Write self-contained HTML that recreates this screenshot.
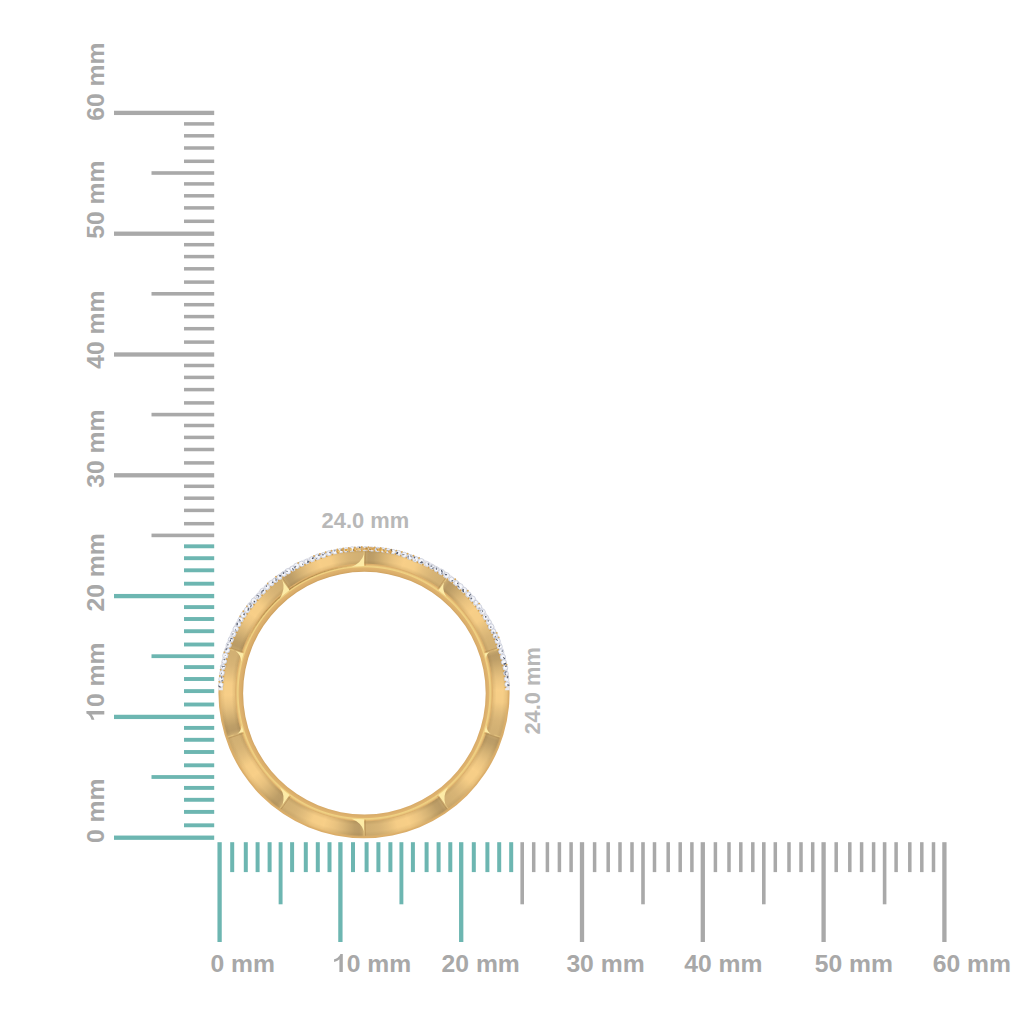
<!DOCTYPE html>
<html><head><meta charset="utf-8"><style>
html,body{margin:0;padding:0;background:#fff;}
body{width:1024px;height:1024px;overflow:hidden;position:relative;}
svg{display:block;position:absolute;left:0;top:0;}
.lb{font-family:"Liberation Sans",sans-serif;font-weight:bold;font-size:24.7px;fill:#a8a8a8;}
.lb2{font-family:"Liberation Sans",sans-serif;font-weight:bold;font-size:21.9px;fill:#b8b8b8;}
.rg{position:absolute;left:215.40px;top:544.10px;width:297.20px;height:297.20px;}
#face{background:radial-gradient(circle at 50% 50%, rgba(90,55,10,0.10) 129.3px, rgba(90,55,10,0.0) 132.5px, rgba(90,55,10,0.0) 139px, rgba(90,55,10,0.08) 142.6px), conic-gradient(from 0deg at 50% 50%, rgb(210,176,115) 0deg, rgb(193,162,106) 1deg, rgb(186,155,102) 2deg, rgb(188,157,103) 3deg, rgb(190,159,104) 4deg, rgb(196,164,107) 5deg, rgb(201,168,110) 6deg, rgb(207,173,113) 7deg, rgb(212,178,116) 8deg, rgb(218,182,119) 9deg, rgb(222,186,122) 10deg, rgb(228,190,125) 11deg, rgb(232,194,127) 12deg, rgb(236,197,129) 13deg, rgb(239,199,131) 14deg, rgb(242,202,132) 15deg, rgb(244,204,134) 16deg, rgb(248,207,136) 17deg, rgb(247,206,135) 18deg, rgb(246,206,135) 19deg, rgb(246,206,135) 20deg, rgb(246,205,135) 21deg, rgb(245,205,134) 22deg, rgb(241,201,132) 23deg, rgb(236,198,129) 24deg, rgb(232,194,127) 25deg, rgb(228,190,125) 26deg, rgb(224,188,123) 27deg, rgb(221,185,121) 28deg, rgb(218,182,120) 29deg, rgb(215,180,118) 30deg, rgb(214,179,117) 31deg, rgb(212,178,116) 32deg, rgb(211,177,116) 33deg, rgb(210,176,115) 34deg, rgb(210,176,115) 35deg, rgb(210,176,115) 36deg, rgb(193,162,106) 37deg, rgb(186,155,102) 38deg, rgb(188,157,103) 39deg, rgb(190,159,104) 40deg, rgb(196,164,107) 41deg, rgb(201,168,110) 42deg, rgb(207,173,113) 43deg, rgb(212,178,116) 44deg, rgb(218,182,119) 45deg, rgb(222,186,122) 46deg, rgb(228,190,125) 47deg, rgb(232,194,127) 48deg, rgb(236,197,129) 49deg, rgb(239,199,131) 50deg, rgb(242,202,132) 51deg, rgb(244,204,134) 52deg, rgb(248,207,136) 53deg, rgb(247,206,135) 54deg, rgb(246,206,135) 55deg, rgb(246,206,135) 56deg, rgb(246,205,135) 57deg, rgb(245,205,134) 58deg, rgb(241,201,132) 59deg, rgb(236,198,129) 60deg, rgb(232,194,127) 61deg, rgb(228,190,125) 62deg, rgb(224,188,123) 63deg, rgb(221,185,121) 64deg, rgb(218,182,120) 65deg, rgb(215,180,118) 66deg, rgb(214,179,117) 67deg, rgb(212,178,116) 68deg, rgb(211,177,116) 69deg, rgb(210,176,115) 70deg, rgb(210,176,115) 71deg, rgb(210,176,115) 72deg, rgb(193,162,106) 73deg, rgb(186,155,102) 74deg, rgb(188,157,103) 75deg, rgb(190,159,104) 76deg, rgb(196,164,107) 77deg, rgb(201,168,110) 78deg, rgb(207,173,113) 79deg, rgb(212,178,116) 80deg, rgb(218,182,119) 81deg, rgb(222,186,122) 82deg, rgb(228,190,125) 83deg, rgb(232,194,127) 84deg, rgb(236,197,129) 85deg, rgb(239,199,131) 86deg, rgb(242,202,132) 87deg, rgb(244,204,134) 88deg, rgb(248,207,136) 89deg, rgb(247,206,135) 90deg, rgb(246,206,135) 91deg, rgb(246,206,135) 92deg, rgb(246,205,135) 93deg, rgb(245,205,134) 94deg, rgb(241,201,132) 95deg, rgb(236,198,129) 96deg, rgb(232,194,127) 97deg, rgb(228,190,125) 98deg, rgb(224,188,123) 99deg, rgb(221,185,121) 100deg, rgb(218,182,120) 101deg, rgb(215,180,118) 102deg, rgb(214,179,117) 103deg, rgb(212,178,116) 104deg, rgb(211,177,116) 105deg, rgb(210,176,115) 106deg, rgb(210,176,115) 107deg, rgb(210,176,115) 108deg, rgb(193,162,106) 109deg, rgb(186,155,102) 110deg, rgb(188,157,103) 111deg, rgb(190,159,104) 112deg, rgb(196,164,107) 113deg, rgb(201,168,110) 114deg, rgb(207,173,113) 115deg, rgb(212,178,116) 116deg, rgb(218,182,119) 117deg, rgb(222,186,122) 118deg, rgb(228,190,125) 119deg, rgb(232,194,127) 120deg, rgb(236,197,129) 121deg, rgb(239,199,131) 122deg, rgb(242,202,132) 123deg, rgb(244,204,134) 124deg, rgb(248,207,136) 125deg, rgb(247,206,135) 126deg, rgb(246,206,135) 127deg, rgb(246,206,135) 128deg, rgb(246,205,135) 129deg, rgb(245,205,134) 130deg, rgb(241,201,132) 131deg, rgb(236,198,129) 132deg, rgb(232,194,127) 133deg, rgb(228,190,125) 134deg, rgb(224,188,123) 135deg, rgb(221,185,121) 136deg, rgb(218,182,120) 137deg, rgb(215,180,118) 138deg, rgb(214,179,117) 139deg, rgb(212,178,116) 140deg, rgb(211,177,116) 141deg, rgb(210,176,115) 142deg, rgb(210,176,115) 143deg, rgb(210,176,115) 144deg, rgb(193,162,106) 145deg, rgb(186,155,102) 146deg, rgb(188,157,103) 147deg, rgb(190,159,104) 148deg, rgb(196,164,107) 149deg, rgb(201,168,110) 150deg, rgb(207,173,113) 151deg, rgb(212,178,116) 152deg, rgb(218,182,119) 153deg, rgb(222,186,122) 154deg, rgb(228,190,125) 155deg, rgb(232,194,127) 156deg, rgb(236,197,129) 157deg, rgb(239,199,131) 158deg, rgb(242,202,132) 159deg, rgb(244,204,134) 160deg, rgb(248,207,136) 161deg, rgb(247,206,135) 162deg, rgb(246,206,135) 163deg, rgb(246,206,135) 164deg, rgb(246,205,135) 165deg, rgb(245,205,134) 166deg, rgb(241,201,132) 167deg, rgb(236,198,129) 168deg, rgb(232,194,127) 169deg, rgb(228,190,125) 170deg, rgb(224,188,123) 171deg, rgb(221,185,121) 172deg, rgb(218,182,120) 173deg, rgb(215,180,118) 174deg, rgb(214,179,117) 175deg, rgb(212,178,116) 176deg, rgb(211,177,116) 177deg, rgb(210,176,115) 178deg, rgb(210,176,115) 179deg, rgb(210,176,115) 180deg, rgb(193,162,106) 181deg, rgb(186,155,102) 182deg, rgb(188,157,103) 183deg, rgb(190,159,104) 184deg, rgb(196,164,107) 185deg, rgb(201,168,110) 186deg, rgb(207,173,113) 187deg, rgb(212,178,116) 188deg, rgb(218,182,119) 189deg, rgb(222,186,122) 190deg, rgb(228,190,125) 191deg, rgb(232,194,127) 192deg, rgb(236,197,129) 193deg, rgb(239,199,131) 194deg, rgb(242,202,132) 195deg, rgb(244,204,134) 196deg, rgb(248,207,136) 197deg, rgb(247,206,135) 198deg, rgb(246,206,135) 199deg, rgb(246,206,135) 200deg, rgb(246,205,135) 201deg, rgb(245,205,134) 202deg, rgb(241,201,132) 203deg, rgb(236,198,129) 204deg, rgb(232,194,127) 205deg, rgb(228,190,125) 206deg, rgb(224,188,123) 207deg, rgb(221,185,121) 208deg, rgb(218,182,120) 209deg, rgb(215,180,118) 210deg, rgb(214,179,117) 211deg, rgb(212,178,116) 212deg, rgb(211,177,116) 213deg, rgb(210,176,115) 214deg, rgb(210,176,115) 215deg, rgb(210,176,115) 216deg, rgb(193,162,106) 217deg, rgb(186,155,102) 218deg, rgb(188,157,103) 219deg, rgb(190,159,104) 220deg, rgb(196,164,107) 221deg, rgb(201,168,110) 222deg, rgb(207,173,113) 223deg, rgb(212,178,116) 224deg, rgb(218,182,119) 225deg, rgb(222,186,122) 226deg, rgb(228,190,125) 227deg, rgb(232,194,127) 228deg, rgb(236,197,129) 229deg, rgb(239,199,131) 230deg, rgb(242,202,132) 231deg, rgb(244,204,134) 232deg, rgb(248,207,136) 233deg, rgb(247,206,135) 234deg, rgb(246,206,135) 235deg, rgb(246,206,135) 236deg, rgb(246,205,135) 237deg, rgb(245,205,134) 238deg, rgb(241,201,132) 239deg, rgb(236,198,129) 240deg, rgb(232,194,127) 241deg, rgb(228,190,125) 242deg, rgb(224,188,123) 243deg, rgb(221,185,121) 244deg, rgb(218,182,120) 245deg, rgb(215,180,118) 246deg, rgb(214,179,117) 247deg, rgb(212,178,116) 248deg, rgb(211,177,116) 249deg, rgb(210,176,115) 250deg, rgb(210,176,115) 251deg, rgb(210,176,115) 252deg, rgb(193,162,106) 253deg, rgb(186,155,102) 254deg, rgb(188,157,103) 255deg, rgb(190,159,104) 256deg, rgb(196,164,107) 257deg, rgb(201,168,110) 258deg, rgb(207,173,113) 259deg, rgb(212,178,116) 260deg, rgb(218,182,119) 261deg, rgb(222,186,122) 262deg, rgb(228,190,125) 263deg, rgb(232,194,127) 264deg, rgb(236,197,129) 265deg, rgb(239,199,131) 266deg, rgb(242,202,132) 267deg, rgb(244,204,134) 268deg, rgb(248,207,136) 269deg, rgb(247,206,135) 270deg, rgb(246,206,135) 271deg, rgb(246,206,135) 272deg, rgb(246,205,135) 273deg, rgb(245,205,134) 274deg, rgb(241,201,132) 275deg, rgb(236,198,129) 276deg, rgb(232,194,127) 277deg, rgb(228,190,125) 278deg, rgb(224,188,123) 279deg, rgb(221,185,121) 280deg, rgb(218,182,120) 281deg, rgb(215,180,118) 282deg, rgb(214,179,117) 283deg, rgb(212,178,116) 284deg, rgb(211,177,116) 285deg, rgb(210,176,115) 286deg, rgb(210,176,115) 287deg, rgb(210,176,115) 288deg, rgb(193,162,106) 289deg, rgb(186,155,102) 290deg, rgb(188,157,103) 291deg, rgb(190,159,104) 292deg, rgb(196,164,107) 293deg, rgb(201,168,110) 294deg, rgb(207,173,113) 295deg, rgb(212,178,116) 296deg, rgb(218,182,119) 297deg, rgb(222,186,122) 298deg, rgb(228,190,125) 299deg, rgb(232,194,127) 300deg, rgb(236,197,129) 301deg, rgb(239,199,131) 302deg, rgb(242,202,132) 303deg, rgb(244,204,134) 304deg, rgb(248,207,136) 305deg, rgb(247,206,135) 306deg, rgb(246,206,135) 307deg, rgb(246,206,135) 308deg, rgb(246,205,135) 309deg, rgb(245,205,134) 310deg, rgb(241,201,132) 311deg, rgb(236,198,129) 312deg, rgb(232,194,127) 313deg, rgb(228,190,125) 314deg, rgb(224,188,123) 315deg, rgb(221,185,121) 316deg, rgb(218,182,120) 317deg, rgb(215,180,118) 318deg, rgb(214,179,117) 319deg, rgb(212,178,116) 320deg, rgb(211,177,116) 321deg, rgb(210,176,115) 322deg, rgb(210,176,115) 323deg, rgb(210,176,115) 324deg, rgb(193,162,106) 325deg, rgb(186,155,102) 326deg, rgb(188,157,103) 327deg, rgb(190,159,104) 328deg, rgb(196,164,107) 329deg, rgb(201,168,110) 330deg, rgb(207,173,113) 331deg, rgb(212,178,116) 332deg, rgb(218,182,119) 333deg, rgb(222,186,122) 334deg, rgb(228,190,125) 335deg, rgb(232,194,127) 336deg, rgb(236,197,129) 337deg, rgb(239,199,131) 338deg, rgb(242,202,132) 339deg, rgb(244,204,134) 340deg, rgb(248,207,136) 341deg, rgb(247,206,135) 342deg, rgb(246,206,135) 343deg, rgb(246,206,135) 344deg, rgb(246,205,135) 345deg, rgb(245,205,134) 346deg, rgb(241,201,132) 347deg, rgb(236,198,129) 348deg, rgb(232,194,127) 349deg, rgb(228,190,125) 350deg, rgb(224,188,123) 351deg, rgb(221,185,121) 352deg, rgb(218,182,120) 353deg, rgb(215,180,118) 354deg, rgb(214,179,117) 355deg, rgb(212,178,116) 356deg, rgb(211,177,116) 357deg, rgb(210,176,115) 358deg, rgb(210,176,115) 359deg, rgb(210,176,115) 360deg);
-webkit-mask-image:radial-gradient(circle at 50% 50%, transparent 128.3px, #000 129.3px, #000 142.6px, transparent 144.6px);mask-image:radial-gradient(circle at 50% 50%, transparent 128.3px, #000 129.3px, #000 142.6px, transparent 144.6px);}
</style></head><body>
<svg width="1024" height="1024" viewBox="0 0 1024 1024">
<defs>
<radialGradient id="gold" gradientUnits="userSpaceOnUse" cx="364.0" cy="692.7" r="145.6">
<stop offset="0.8310" stop-color="#d0a361"/>
<stop offset="0.8400" stop-color="#d9ac69"/>
<stop offset="0.8578" stop-color="#e0b46f"/>
<stop offset="0.8647" stop-color="#f0d283"/>
<stop offset="0.8716" stop-color="#ecca7e"/>
<stop offset="0.8812" stop-color="#dcae6a"/>
<stop offset="0.8963" stop-color="#e6bb76"/>
<stop offset="0.9203" stop-color="#ecc27c"/>
<stop offset="0.9547" stop-color="#eac07a"/>
<stop offset="0.9794" stop-color="#e2b46e"/>
<stop offset="1.0000" stop-color="#d8ab67"/>
</radialGradient>
</defs>
<rect x="114.00" y="835.55" width="100.20" height="4.30" fill="#6db6b1"/>
<rect x="217.45" y="842.20" width="4.30" height="99.80" fill="#6db6b1"/>
<rect x="184.00" y="823.35" width="30.20" height="3.90" fill="#6db6b1"/>
<rect x="230.20" y="842.20" width="4.00" height="29.90" fill="#6db6b1"/>
<rect x="184.00" y="809.95" width="30.20" height="3.90" fill="#6db6b1"/>
<rect x="243.80" y="842.20" width="4.00" height="29.90" fill="#6db6b1"/>
<rect x="184.00" y="797.85" width="30.20" height="3.90" fill="#6db6b1"/>
<rect x="255.60" y="842.20" width="4.00" height="29.90" fill="#6db6b1"/>
<rect x="184.00" y="785.95" width="30.20" height="3.90" fill="#6db6b1"/>
<rect x="267.60" y="842.20" width="4.00" height="29.90" fill="#6db6b1"/>
<rect x="151.50" y="775.10" width="62.70" height="3.80" fill="#6db6b1"/>
<rect x="278.65" y="842.20" width="3.90" height="62.10" fill="#6db6b1"/>
<rect x="184.00" y="763.35" width="30.20" height="3.90" fill="#6db6b1"/>
<rect x="290.10" y="842.20" width="4.00" height="29.90" fill="#6db6b1"/>
<rect x="184.00" y="750.05" width="30.20" height="3.90" fill="#6db6b1"/>
<rect x="303.80" y="842.20" width="4.00" height="29.90" fill="#6db6b1"/>
<rect x="184.00" y="737.85" width="30.20" height="3.90" fill="#6db6b1"/>
<rect x="315.80" y="842.20" width="4.00" height="29.90" fill="#6db6b1"/>
<rect x="184.00" y="725.95" width="30.20" height="3.90" fill="#6db6b1"/>
<rect x="327.50" y="842.20" width="4.00" height="29.90" fill="#6db6b1"/>
<rect x="114.00" y="714.75" width="100.20" height="4.30" fill="#6db6b1"/>
<rect x="338.25" y="842.20" width="4.30" height="99.80" fill="#6db6b1"/>
<rect x="184.00" y="702.55" width="30.20" height="3.90" fill="#6db6b1"/>
<rect x="351.00" y="842.20" width="4.00" height="29.90" fill="#6db6b1"/>
<rect x="184.00" y="689.15" width="30.20" height="3.90" fill="#6db6b1"/>
<rect x="364.60" y="842.20" width="4.00" height="29.90" fill="#6db6b1"/>
<rect x="184.00" y="677.05" width="30.20" height="3.90" fill="#6db6b1"/>
<rect x="376.40" y="842.20" width="4.00" height="29.90" fill="#6db6b1"/>
<rect x="184.00" y="665.15" width="30.20" height="3.90" fill="#6db6b1"/>
<rect x="388.40" y="842.20" width="4.00" height="29.90" fill="#6db6b1"/>
<rect x="151.50" y="654.30" width="62.70" height="3.80" fill="#6db6b1"/>
<rect x="399.45" y="842.20" width="3.90" height="62.10" fill="#6db6b1"/>
<rect x="184.00" y="642.55" width="30.20" height="3.90" fill="#6db6b1"/>
<rect x="410.90" y="842.20" width="4.00" height="29.90" fill="#6db6b1"/>
<rect x="184.00" y="629.25" width="30.20" height="3.90" fill="#6db6b1"/>
<rect x="424.60" y="842.20" width="4.00" height="29.90" fill="#6db6b1"/>
<rect x="184.00" y="617.05" width="30.20" height="3.90" fill="#6db6b1"/>
<rect x="436.60" y="842.20" width="4.00" height="29.90" fill="#6db6b1"/>
<rect x="184.00" y="605.15" width="30.20" height="3.90" fill="#6db6b1"/>
<rect x="448.30" y="842.20" width="4.00" height="29.90" fill="#6db6b1"/>
<rect x="114.00" y="593.95" width="100.20" height="4.30" fill="#6db6b1"/>
<rect x="459.05" y="842.20" width="4.30" height="99.80" fill="#6db6b1"/>
<rect x="184.00" y="581.75" width="30.20" height="3.90" fill="#6db6b1"/>
<rect x="471.80" y="842.20" width="4.00" height="29.90" fill="#6db6b1"/>
<rect x="184.00" y="568.35" width="30.20" height="3.90" fill="#6db6b1"/>
<rect x="485.40" y="842.20" width="4.00" height="29.90" fill="#6db6b1"/>
<rect x="184.00" y="556.25" width="30.20" height="3.90" fill="#6db6b1"/>
<rect x="497.20" y="842.20" width="4.00" height="29.90" fill="#6db6b1"/>
<rect x="184.00" y="544.35" width="30.20" height="3.90" fill="#6db6b1"/>
<rect x="509.20" y="842.20" width="4.00" height="29.90" fill="#6db6b1"/>
<rect x="151.50" y="533.60" width="62.70" height="3.60" fill="#a9a9a9"/>
<rect x="520.40" y="842.20" width="3.60" height="62.10" fill="#a9a9a9"/>
<rect x="184.00" y="521.95" width="30.20" height="3.50" fill="#a9a9a9"/>
<rect x="531.95" y="842.20" width="3.50" height="29.90" fill="#a9a9a9"/>
<rect x="184.00" y="508.65" width="30.20" height="3.50" fill="#a9a9a9"/>
<rect x="545.65" y="842.20" width="3.50" height="29.90" fill="#a9a9a9"/>
<rect x="184.00" y="496.45" width="30.20" height="3.50" fill="#a9a9a9"/>
<rect x="557.65" y="842.20" width="3.50" height="29.90" fill="#a9a9a9"/>
<rect x="184.00" y="484.55" width="30.20" height="3.50" fill="#a9a9a9"/>
<rect x="569.35" y="842.20" width="3.50" height="29.90" fill="#a9a9a9"/>
<rect x="114.00" y="473.15" width="100.20" height="4.30" fill="#a9a9a9"/>
<rect x="579.85" y="842.20" width="4.30" height="99.80" fill="#a9a9a9"/>
<rect x="184.00" y="461.15" width="30.20" height="3.50" fill="#a9a9a9"/>
<rect x="592.85" y="842.20" width="3.50" height="29.90" fill="#a9a9a9"/>
<rect x="184.00" y="447.75" width="30.20" height="3.50" fill="#a9a9a9"/>
<rect x="606.45" y="842.20" width="3.50" height="29.90" fill="#a9a9a9"/>
<rect x="184.00" y="435.65" width="30.20" height="3.50" fill="#a9a9a9"/>
<rect x="618.25" y="842.20" width="3.50" height="29.90" fill="#a9a9a9"/>
<rect x="184.00" y="423.75" width="30.20" height="3.50" fill="#a9a9a9"/>
<rect x="630.25" y="842.20" width="3.50" height="29.90" fill="#a9a9a9"/>
<rect x="151.50" y="412.80" width="62.70" height="3.60" fill="#a9a9a9"/>
<rect x="641.20" y="842.20" width="3.60" height="62.10" fill="#a9a9a9"/>
<rect x="184.00" y="401.15" width="30.20" height="3.50" fill="#a9a9a9"/>
<rect x="652.75" y="842.20" width="3.50" height="29.90" fill="#a9a9a9"/>
<rect x="184.00" y="387.85" width="30.20" height="3.50" fill="#a9a9a9"/>
<rect x="666.45" y="842.20" width="3.50" height="29.90" fill="#a9a9a9"/>
<rect x="184.00" y="375.65" width="30.20" height="3.50" fill="#a9a9a9"/>
<rect x="678.45" y="842.20" width="3.50" height="29.90" fill="#a9a9a9"/>
<rect x="184.00" y="363.75" width="30.20" height="3.50" fill="#a9a9a9"/>
<rect x="690.15" y="842.20" width="3.50" height="29.90" fill="#a9a9a9"/>
<rect x="114.00" y="352.35" width="100.20" height="4.30" fill="#a9a9a9"/>
<rect x="700.65" y="842.20" width="4.30" height="99.80" fill="#a9a9a9"/>
<rect x="184.00" y="340.35" width="30.20" height="3.50" fill="#a9a9a9"/>
<rect x="713.65" y="842.20" width="3.50" height="29.90" fill="#a9a9a9"/>
<rect x="184.00" y="326.95" width="30.20" height="3.50" fill="#a9a9a9"/>
<rect x="727.25" y="842.20" width="3.50" height="29.90" fill="#a9a9a9"/>
<rect x="184.00" y="314.85" width="30.20" height="3.50" fill="#a9a9a9"/>
<rect x="739.05" y="842.20" width="3.50" height="29.90" fill="#a9a9a9"/>
<rect x="184.00" y="302.95" width="30.20" height="3.50" fill="#a9a9a9"/>
<rect x="751.05" y="842.20" width="3.50" height="29.90" fill="#a9a9a9"/>
<rect x="151.50" y="292.00" width="62.70" height="3.60" fill="#a9a9a9"/>
<rect x="762.00" y="842.20" width="3.60" height="62.10" fill="#a9a9a9"/>
<rect x="184.00" y="280.35" width="30.20" height="3.50" fill="#a9a9a9"/>
<rect x="773.55" y="842.20" width="3.50" height="29.90" fill="#a9a9a9"/>
<rect x="184.00" y="267.05" width="30.20" height="3.50" fill="#a9a9a9"/>
<rect x="787.25" y="842.20" width="3.50" height="29.90" fill="#a9a9a9"/>
<rect x="184.00" y="254.85" width="30.20" height="3.50" fill="#a9a9a9"/>
<rect x="799.25" y="842.20" width="3.50" height="29.90" fill="#a9a9a9"/>
<rect x="184.00" y="242.95" width="30.20" height="3.50" fill="#a9a9a9"/>
<rect x="810.95" y="842.20" width="3.50" height="29.90" fill="#a9a9a9"/>
<rect x="114.00" y="231.55" width="100.20" height="4.30" fill="#a9a9a9"/>
<rect x="821.45" y="842.20" width="4.30" height="99.80" fill="#a9a9a9"/>
<rect x="184.00" y="219.55" width="30.20" height="3.50" fill="#a9a9a9"/>
<rect x="834.45" y="842.20" width="3.50" height="29.90" fill="#a9a9a9"/>
<rect x="184.00" y="206.15" width="30.20" height="3.50" fill="#a9a9a9"/>
<rect x="848.05" y="842.20" width="3.50" height="29.90" fill="#a9a9a9"/>
<rect x="184.00" y="194.05" width="30.20" height="3.50" fill="#a9a9a9"/>
<rect x="859.85" y="842.20" width="3.50" height="29.90" fill="#a9a9a9"/>
<rect x="184.00" y="182.15" width="30.20" height="3.50" fill="#a9a9a9"/>
<rect x="871.85" y="842.20" width="3.50" height="29.90" fill="#a9a9a9"/>
<rect x="151.50" y="171.20" width="62.70" height="3.60" fill="#a9a9a9"/>
<rect x="882.80" y="842.20" width="3.60" height="62.10" fill="#a9a9a9"/>
<rect x="184.00" y="159.55" width="30.20" height="3.50" fill="#a9a9a9"/>
<rect x="894.35" y="842.20" width="3.50" height="29.90" fill="#a9a9a9"/>
<rect x="184.00" y="146.25" width="30.20" height="3.50" fill="#a9a9a9"/>
<rect x="908.05" y="842.20" width="3.50" height="29.90" fill="#a9a9a9"/>
<rect x="184.00" y="134.05" width="30.20" height="3.50" fill="#a9a9a9"/>
<rect x="920.05" y="842.20" width="3.50" height="29.90" fill="#a9a9a9"/>
<rect x="184.00" y="122.15" width="30.20" height="3.50" fill="#a9a9a9"/>
<rect x="931.75" y="842.20" width="3.50" height="29.90" fill="#a9a9a9"/>
<rect x="114.00" y="110.75" width="100.20" height="4.30" fill="#a9a9a9"/>
<rect x="942.25" y="842.20" width="4.30" height="99.80" fill="#a9a9a9"/>
<text x="210.4" y="972" class="lb">0 mm</text>
<path transform="translate(333.0 972)" d="M9.8,0 L9.8,-17.9 L7.4,-17.9 C6.9,-16.4 5.9,-15.2 4.6,-14.3 C3.5,-13.6 2.3,-13.1 1.1,-12.8 L1.1,-9.9 C3.0,-10.4 4.9,-11.4 6.4,-12.7 L6.4,0 Z" fill="#a8a8a8"/>
<text x="346.7" y="972" class="lb">0 mm</text>
<text x="441.6" y="972" class="lb">20 mm</text>
<text x="566.4" y="972" class="lb">30 mm</text>
<text x="684.2" y="972" class="lb">40 mm</text>
<text x="814.8" y="972" class="lb">50 mm</text>
<text x="932.8" y="972" class="lb">60 mm</text>
<text transform="translate(104.3 843.0) rotate(-90)" class="lb">0 mm</text>
<path transform="translate(104.3 720.8) rotate(-90)" d="M9.8,0 L9.8,-17.9 L7.4,-17.9 C6.9,-16.4 5.9,-15.2 4.6,-14.3 C3.5,-13.6 2.3,-13.1 1.1,-12.8 L1.1,-9.9 C3.0,-10.4 4.9,-11.4 6.4,-12.7 L6.4,0 Z" fill="#a8a8a8"/>
<text transform="translate(104.3 720.8) rotate(-90)" x="13.7" class="lb">0 mm</text>
<text transform="translate(104.3 611.6) rotate(-90)" class="lb">20 mm</text>
<text transform="translate(104.3 487.8) rotate(-90)" class="lb">30 mm</text>
<text transform="translate(104.3 368.8) rotate(-90)" class="lb">40 mm</text>
<text transform="translate(104.3 238.8) rotate(-90)" class="lb">50 mm</text>
<text transform="translate(104.3 120.8) rotate(-90)" class="lb">60 mm</text>
<text x="321.6" y="527.6" class="lb2">24.0 mm</text>
<text transform="translate(539.9 734.6) rotate(-90)" class="lb2">24.0 mm</text>
<path d="M218.4,692.7 a145.6,145.6 0 1,0 291.2,0 a145.6,145.6 0 1,0 -291.2,0 Z M243.09999999999997,693.2 a121.3,121.3 0 1,1 242.6,0 a121.3,121.3 0 1,1 -242.6,0 Z" fill="url(#gold)" fill-rule="evenodd"/>
</svg>
<div class="rg" id="face"></div>
<svg width="1024" height="1024" viewBox="0 0 1024 1024">
<path d="M244.38,649.16 A127.3,127.3 0 0 1 246.05,644.81" fill="none" stroke="#8a5f28" stroke-width="1.1" opacity="0.00"/>
<path d="M245.97,645.01 A127.3,127.3 0 0 1 247.80,640.72" fill="none" stroke="#8a5f28" stroke-width="1.1" opacity="0.05"/>
<path d="M247.71,640.92 A127.3,127.3 0 0 1 249.68,636.70" fill="none" stroke="#8a5f28" stroke-width="1.1" opacity="0.10"/>
<path d="M249.58,636.90 A127.3,127.3 0 0 1 251.71,632.74" fill="none" stroke="#8a5f28" stroke-width="1.1" opacity="0.15"/>
<path d="M251.60,632.94 A127.3,127.3 0 0 1 253.87,628.86" fill="none" stroke="#8a5f28" stroke-width="1.1" opacity="0.20"/>
<path d="M253.75,629.05 A127.3,127.3 0 0 1 256.16,625.05" fill="none" stroke="#8a5f28" stroke-width="1.1" opacity="0.25"/>
<path d="M256.04,625.24 A127.3,127.3 0 0 1 258.59,621.33" fill="none" stroke="#8a5f28" stroke-width="1.1" opacity="0.30"/>
<path d="M258.46,621.51 A127.3,127.3 0 0 1 261.14,617.70" fill="none" stroke="#8a5f28" stroke-width="1.1" opacity="0.34"/>
<path d="M261.01,617.87 A127.3,127.3 0 0 1 263.82,614.15" fill="none" stroke="#8a5f28" stroke-width="1.1" opacity="0.38"/>
<path d="M263.69,614.33 A127.3,127.3 0 0 1 266.63,610.70" fill="none" stroke="#8a5f28" stroke-width="1.1" opacity="0.42"/>
<path d="M266.48,610.87 A127.3,127.3 0 0 1 269.55,607.35" fill="none" stroke="#8a5f28" stroke-width="1.1" opacity="0.45"/>
<path d="M269.40,607.52 A127.3,127.3 0 0 1 272.58,604.11" fill="none" stroke="#8a5f28" stroke-width="1.1" opacity="0.48"/>
<path d="M272.43,604.27 A127.3,127.3 0 0 1 275.73,600.97" fill="none" stroke="#8a5f28" stroke-width="1.1" opacity="0.50"/>
<path d="M275.57,601.13 A127.3,127.3 0 0 1 278.98,597.95" fill="none" stroke="#8a5f28" stroke-width="1.1" opacity="0.52"/>
<path d="M278.82,598.10 A127.3,127.3 0 0 1 282.34,595.04" fill="none" stroke="#8a5f28" stroke-width="1.1" opacity="0.53"/>
<path d="M282.17,595.18 A127.3,127.3 0 0 1 285.80,592.25" fill="none" stroke="#8a5f28" stroke-width="1.1" opacity="0.54"/>
<path d="M285.63,592.39 A127.3,127.3 0 0 1 289.35,589.58" fill="none" stroke="#8a5f28" stroke-width="1.1" opacity="0.55"/>
<path d="M289.17,589.71 A127.3,127.3 0 0 1 293.00,587.04" fill="none" stroke="#8a5f28" stroke-width="1.1" opacity="0.55"/>
<path d="M292.81,587.16 A127.3,127.3 0 0 1 296.73,584.63" fill="none" stroke="#8a5f28" stroke-width="1.1" opacity="0.54"/>
<path d="M296.54,584.74 A127.3,127.3 0 0 1 300.54,582.34" fill="none" stroke="#8a5f28" stroke-width="1.1" opacity="0.53"/>
<path d="M300.35,582.45 A127.3,127.3 0 0 1 304.43,580.20" fill="none" stroke="#8a5f28" stroke-width="1.1" opacity="0.52"/>
<path d="M304.24,580.30 A127.3,127.3 0 0 1 308.40,578.19" fill="none" stroke="#8a5f28" stroke-width="1.1" opacity="0.50"/>
<path d="M308.20,578.28 A127.3,127.3 0 0 1 312.43,576.32" fill="none" stroke="#8a5f28" stroke-width="1.1" opacity="0.48"/>
<path d="M312.22,576.41 A127.3,127.3 0 0 1 316.52,574.59" fill="none" stroke="#8a5f28" stroke-width="1.1" opacity="0.45"/>
<path d="M316.31,574.67 A127.3,127.3 0 0 1 320.67,573.00" fill="none" stroke="#8a5f28" stroke-width="1.1" opacity="0.42"/>
<path d="M320.46,573.08 A127.3,127.3 0 0 1 324.87,571.56" fill="none" stroke="#8a5f28" stroke-width="1.1" opacity="0.38"/>
<path d="M324.66,571.63 A127.3,127.3 0 0 1 329.12,570.27" fill="none" stroke="#8a5f28" stroke-width="1.1" opacity="0.34"/>
<path d="M328.91,570.33 A127.3,127.3 0 0 1 333.42,569.13" fill="none" stroke="#8a5f28" stroke-width="1.1" opacity="0.30"/>
<path d="M333.20,569.18 A127.3,127.3 0 0 1 337.75,568.14" fill="none" stroke="#8a5f28" stroke-width="1.1" opacity="0.25"/>
<path d="M337.53,568.18 A127.3,127.3 0 0 1 342.11,567.30" fill="none" stroke="#8a5f28" stroke-width="1.1" opacity="0.20"/>
<path d="M341.89,567.33 A127.3,127.3 0 0 1 346.50,566.61" fill="none" stroke="#8a5f28" stroke-width="1.1" opacity="0.15"/>
<path d="M346.28,566.64 A127.3,127.3 0 0 1 350.91,566.07" fill="none" stroke="#8a5f28" stroke-width="1.1" opacity="0.10"/>
<path d="M350.69,566.10 A127.3,127.3 0 0 1 355.34,565.69" fill="none" stroke="#8a5f28" stroke-width="1.1" opacity="0.05"/>
<path d="M364.00,554.20 L364.00,566.10 L351.65,566.70 Q361.28,562.93 364.00,554.20 Z" fill="#fdeba6"/>
<line x1="364.00" y1="549.70" x2="364.00" y2="555.70" stroke="#f5d98a" stroke-width="0.9" opacity="0.5"/>
<line x1="365.50" y1="549.71" x2="365.33" y2="565.71" stroke="#9c7238" stroke-width="0.9" opacity="0.35"/>
<path d="M444.01,582.58 L438.41,590.28 L446.19,596.40 Q441.66,589.49 444.01,582.58 Z" fill="#fdeba6"/>
<line x1="448.05" y1="577.01" x2="444.53" y2="581.86" stroke="#f5d98a" stroke-width="0.9" opacity="0.5"/>
<line x1="446.84" y1="576.14" x2="437.57" y2="589.18" stroke="#9c7238" stroke-width="0.9" opacity="0.35"/>
<path d="M489.50,651.92 L484.40,653.58 L486.01,658.91 Q486.14,654.28 489.50,651.92 Z" fill="#fdeba6"/>
<line x1="500.00" y1="648.51" x2="494.29" y2="650.36" stroke="#f5d98a" stroke-width="0.9" opacity="0.5"/>
<line x1="499.53" y1="647.09" x2="484.37" y2="652.19" stroke="#9c7238" stroke-width="0.9" opacity="0.35"/>
<path d="M490.63,733.84 L484.40,731.82 L486.33,725.30 Q486.53,730.96 490.63,733.84 Z" fill="#fdeba6"/>
<line x1="500.00" y1="736.89" x2="494.29" y2="735.04" stroke="#f5d98a" stroke-width="0.9" opacity="0.5"/>
<line x1="499.53" y1="738.31" x2="484.37" y2="733.21" stroke="#9c7238" stroke-width="0.9" opacity="0.35"/>
<path d="M445.41,804.75 L438.41,795.12 L448.05,787.37 Q442.48,796.09 445.41,804.75 Z" fill="#fdeba6"/>
<line x1="448.05" y1="808.39" x2="444.53" y2="803.54" stroke="#f5d98a" stroke-width="0.9" opacity="0.5"/>
<line x1="446.84" y1="809.26" x2="437.57" y2="796.22" stroke="#9c7238" stroke-width="0.9" opacity="0.35"/>
<path d="M364.00,831.20 L364.00,819.30 L351.65,818.70 Q361.28,822.47 364.00,831.20 Z" fill="#fdeba6"/>
<line x1="364.00" y1="835.70" x2="364.00" y2="829.70" stroke="#f5d98a" stroke-width="0.9" opacity="0.5"/>
<line x1="365.50" y1="835.69" x2="365.33" y2="819.69" stroke="#9c7238" stroke-width="0.9" opacity="0.35"/>
<path d="M282.59,804.75 L289.59,795.12 L279.95,787.37 Q285.52,796.09 282.59,804.75 Z" fill="#fdeba6"/>
<line x1="279.95" y1="808.39" x2="283.47" y2="803.54" stroke="#f5d98a" stroke-width="0.9" opacity="0.5"/>
<line x1="281.16" y1="809.26" x2="290.43" y2="796.22" stroke="#9c7238" stroke-width="0.9" opacity="0.35"/>
<path d="M237.37,733.84 L243.60,731.82 L241.67,725.30 Q241.47,730.96 237.37,733.84 Z" fill="#fdeba6"/>
<line x1="228.00" y1="736.89" x2="233.71" y2="735.04" stroke="#f5d98a" stroke-width="0.9" opacity="0.5"/>
<line x1="228.47" y1="738.31" x2="243.63" y2="733.21" stroke="#9c7238" stroke-width="0.9" opacity="0.35"/>
<path d="M235.67,651.00 L243.60,653.58 L241.20,661.90 Q240.90,654.69 235.67,651.00 Z" fill="#fdeba6"/>
<line x1="228.00" y1="648.51" x2="233.71" y2="650.36" stroke="#f5d98a" stroke-width="0.9" opacity="0.5"/>
<line x1="228.47" y1="647.09" x2="243.63" y2="652.19" stroke="#9c7238" stroke-width="0.9" opacity="0.35"/>
<path d="M282.59,580.65 L289.59,590.28 L279.95,598.03 Q285.52,589.31 282.59,580.65 Z" fill="#fdeba6"/>
<line x1="279.95" y1="577.01" x2="283.47" y2="581.86" stroke="#f5d98a" stroke-width="0.9" opacity="0.5"/>
<line x1="281.16" y1="576.14" x2="290.43" y2="589.18" stroke="#9c7238" stroke-width="0.9" opacity="0.35"/>
<path d="M218.32,690.16 A145.7,145.7 0 0 1 218.39,687.49 L222.89,687.65 A141.2,141.2 0 0 0 222.82,690.24 Z" fill="#e8e9f1"/>
<path d="M218.39,687.62 A145.7,145.7 0 0 1 218.51,684.95 L223.00,685.19 A141.2,141.2 0 0 0 222.89,687.77 Z" fill="#e8e9f1"/>
<path d="M218.50,685.07 A145.7,145.7 0 0 1 218.66,682.41 L223.15,682.73 A141.2,141.2 0 0 0 222.99,685.31 Z" fill="#e8e9f1"/>
<path d="M218.65,682.54 A145.7,145.7 0 0 1 218.87,679.87 L223.35,680.27 A141.2,141.2 0 0 0 223.14,682.85 Z" fill="#e8e9f1"/>
<path d="M218.85,680.00 A145.7,145.7 0 0 1 219.11,677.34 L223.59,677.82 A141.2,141.2 0 0 0 223.34,680.39 Z" fill="#e8e9f1"/>
<path d="M219.10,677.47 A145.7,145.7 0 0 1 219.40,674.82 L223.87,675.37 A141.2,141.2 0 0 0 223.57,677.94 Z" fill="#e8e9f1"/>
<path d="M219.39,674.94 A145.7,145.7 0 0 1 219.74,672.30 L224.19,672.93 A141.2,141.2 0 0 0 223.85,675.49 Z" fill="#e8e9f1"/>
<path d="M219.72,672.42 A145.7,145.7 0 0 1 220.11,669.78 L224.56,670.49 A141.2,141.2 0 0 0 224.17,673.05 Z" fill="#e8e9f1"/>
<path d="M220.05,669.90 A145.73999999999998,145.73999999999998 0 0 1 220.50,667.27 L225.03,668.07 A141.14,141.14 0 0 0 224.60,670.62 Z" fill="#e8e9f1"/>
<path d="M220.43,667.39 A145.78,145.78 0 0 1 220.92,664.76 L225.54,665.66 A141.07999999999998,141.07999999999998 0 0 0 225.06,668.20 Z" fill="#e8e9f1"/>
<path d="M220.86,664.88 A145.82,145.82 0 0 1 221.39,662.26 L226.09,663.26 A141.01999999999998,141.01999999999998 0 0 0 225.57,665.79 Z" fill="#e8e9f1"/>
<path d="M221.33,662.37 A145.85999999999999,145.85999999999999 0 0 1 221.91,659.76 L226.68,660.87 A140.96,140.96 0 0 0 226.12,663.39 Z" fill="#e8e9f1"/>
<path d="M221.84,659.88 A145.9,145.9 0 0 1 222.46,657.28 L227.32,658.49 A140.9,140.9 0 0 0 226.71,661.00 Z" fill="#e8e9f1"/>
<path d="M222.40,657.39 A145.94,145.94 0 0 1 223.07,654.80 L227.99,656.13 A140.84,140.84 0 0 0 227.34,658.63 Z" fill="#e8e9f1"/>
<path d="M222.99,654.92 A145.98,145.98 0 0 1 223.71,652.34 L228.71,653.78 A140.78,140.78 0 0 0 228.02,656.26 Z" fill="#e8e9f1"/>
<path d="M223.64,652.45 A146.01999999999998,146.01999999999998 0 0 1 224.40,649.89 L229.46,651.44 A140.72,140.72 0 0 0 228.73,653.91 Z" fill="#e8e9f1"/>
<path d="M224.32,650.00 A146.06,146.06 0 0 1 225.13,647.44 L230.26,649.12 A140.66,140.66 0 0 0 229.49,651.57 Z" fill="#e8e9f1"/>
<path d="M225.05,647.55 A146.1,146.1 0 0 1 225.90,645.01 L231.10,646.81 A140.6,140.6 0 0 0 230.28,649.25 Z" fill="#e8e9f1"/>
<path d="M225.86,645.13 A146.1,146.1 0 0 1 226.75,642.61 L231.92,644.50 A140.6,140.6 0 0 0 231.06,646.93 Z" fill="#e8e9f1"/>
<path d="M226.71,642.73 A146.1,146.1 0 0 1 227.65,640.22 L232.78,642.20 A140.6,140.6 0 0 0 231.88,644.61 Z" fill="#e8e9f1"/>
<path d="M227.60,640.34 A146.1,146.1 0 0 1 228.59,637.85 L233.68,639.92 A140.6,140.6 0 0 0 232.74,642.31 Z" fill="#e8e9f1"/>
<path d="M228.54,637.97 A146.1,146.1 0 0 1 229.56,635.50 L234.63,637.65 A140.6,140.6 0 0 0 233.64,640.03 Z" fill="#e8e9f1"/>
<path d="M229.51,635.61 A146.1,146.1 0 0 1 230.58,633.16 L235.61,635.40 A140.6,140.6 0 0 0 234.58,637.76 Z" fill="#e8e9f1"/>
<path d="M230.53,633.28 A146.1,146.1 0 0 1 231.64,630.84 L236.63,633.17 A140.6,140.6 0 0 0 235.56,635.51 Z" fill="#e8e9f1"/>
<path d="M231.59,630.96 A146.1,146.1 0 0 1 232.74,628.54 L237.68,630.95 A140.6,140.6 0 0 0 236.57,633.28 Z" fill="#e8e9f1"/>
<path d="M232.69,628.65 A146.1,146.1 0 0 1 233.88,626.26 L238.78,628.76 A140.6,140.6 0 0 0 237.63,631.07 Z" fill="#e8e9f1"/>
<path d="M233.82,626.37 A146.1,146.1 0 0 1 235.06,624.00 L239.92,626.58 A140.6,140.6 0 0 0 238.72,628.87 Z" fill="#e8e9f1"/>
<path d="M235.00,624.11 A146.1,146.1 0 0 1 236.28,621.76 L241.09,624.43 A140.6,140.6 0 0 0 239.86,626.69 Z" fill="#e8e9f1"/>
<path d="M236.22,621.87 A146.1,146.1 0 0 1 237.54,619.54 L242.30,622.29 A140.6,140.6 0 0 0 241.03,624.54 Z" fill="#e8e9f1"/>
<path d="M237.47,619.65 A146.1,146.1 0 0 1 238.83,617.34 L243.55,620.18 A140.6,140.6 0 0 0 242.24,622.40 Z" fill="#e8e9f1"/>
<path d="M238.77,617.45 A146.1,146.1 0 0 1 240.17,615.17 L244.83,618.09 A140.6,140.6 0 0 0 243.48,620.29 Z" fill="#e8e9f1"/>
<path d="M240.10,615.28 A146.1,146.1 0 0 1 241.54,613.02 L246.15,616.02 A140.6,140.6 0 0 0 244.76,618.19 Z" fill="#e8e9f1"/>
<path d="M241.47,613.13 A146.1,146.1 0 0 1 242.95,610.90 L247.51,613.98 A140.6,140.6 0 0 0 246.08,616.12 Z" fill="#e8e9f1"/>
<path d="M242.88,611.00 A146.1,146.1 0 0 1 244.40,608.80 L248.90,611.95 A140.6,140.6 0 0 0 247.44,614.08 Z" fill="#e8e9f1"/>
<path d="M244.32,608.90 A146.1,146.1 0 0 1 245.88,606.72 L250.32,609.96 A140.6,140.6 0 0 0 248.83,612.06 Z" fill="#e8e9f1"/>
<path d="M245.80,606.82 A146.1,146.1 0 0 1 247.40,604.67 L251.79,607.99 A140.6,140.6 0 0 0 250.25,610.06 Z" fill="#e8e9f1"/>
<path d="M247.32,604.77 A146.1,146.1 0 0 1 248.95,602.65 L253.28,606.04 A140.6,140.6 0 0 0 251.71,608.08 Z" fill="#e8e9f1"/>
<path d="M248.87,602.75 A146.1,146.1 0 0 1 250.54,600.66 L254.81,604.12 A140.6,140.6 0 0 0 253.21,606.14 Z" fill="#e8e9f1"/>
<path d="M250.46,600.76 A146.1,146.1 0 0 1 252.16,598.69 L256.37,602.23 A140.6,140.6 0 0 0 254.73,604.22 Z" fill="#e8e9f1"/>
<path d="M252.08,598.79 A146.1,146.1 0 0 1 253.82,596.75 L257.97,600.37 A140.6,140.6 0 0 0 256.29,602.32 Z" fill="#e8e9f1"/>
<path d="M253.74,596.85 A146.1,146.1 0 0 1 255.51,594.85 L259.60,598.53 A140.6,140.6 0 0 0 257.89,600.46 Z" fill="#e8e9f1"/>
<path d="M255.43,594.94 A146.1,146.1 0 0 1 257.24,592.97 L261.26,596.72 A140.6,140.6 0 0 0 259.51,598.62 Z" fill="#e8e9f1"/>
<path d="M257.15,593.06 A146.1,146.1 0 0 1 258.99,591.12 L262.95,594.94 A140.6,140.6 0 0 0 261.17,596.81 Z" fill="#e8e9f1"/>
<path d="M258.90,591.21 A146.1,146.1 0 0 1 260.78,589.30 L264.67,593.19 A140.6,140.6 0 0 0 262.86,595.03 Z" fill="#e8e9f1"/>
<path d="M260.69,589.39 A146.1,146.1 0 0 1 262.60,587.52 L266.42,591.48 A140.6,140.6 0 0 0 264.58,593.28 Z" fill="#e8e9f1"/>
<path d="M262.51,587.60 A146.1,146.1 0 0 1 264.45,585.76 L268.20,589.79 A140.6,140.6 0 0 0 266.33,591.56 Z" fill="#e8e9f1"/>
<path d="M264.36,585.85 A146.1,146.1 0 0 1 266.33,584.04 L270.01,588.13 A140.6,140.6 0 0 0 268.11,589.87 Z" fill="#e8e9f1"/>
<path d="M266.24,584.13 A146.1,146.1 0 0 1 268.25,582.35 L271.85,586.51 A140.6,140.6 0 0 0 269.92,588.21 Z" fill="#e8e9f1"/>
<path d="M268.15,582.44 A146.1,146.1 0 0 1 270.19,580.70 L273.72,584.92 A140.6,140.6 0 0 0 271.76,586.59 Z" fill="#e8e9f1"/>
<path d="M270.09,580.78 A146.1,146.1 0 0 1 272.16,579.08 L275.61,583.36 A140.6,140.6 0 0 0 273.62,584.99 Z" fill="#e8e9f1"/>
<path d="M272.06,579.16 A146.1,146.1 0 0 1 274.15,577.49 L277.53,581.83 A140.6,140.6 0 0 0 275.52,583.43 Z" fill="#e8e9f1"/>
<path d="M274.05,577.57 A146.1,146.1 0 0 1 276.18,575.94 L279.48,580.34 A140.6,140.6 0 0 0 277.44,581.91 Z" fill="#e8e9f1"/>
<path d="M276.07,576.02 A146.1,146.1 0 0 1 278.23,574.43 L281.46,578.88 A140.6,140.6 0 0 0 279.38,580.41 Z" fill="#e8e9f1"/>
<path d="M278.12,574.50 A146.1,146.1 0 0 1 280.30,572.95 L283.46,577.46 A140.6,140.6 0 0 0 281.36,578.95 Z" fill="#e8e9f1"/>
<path d="M280.20,573.02 A146.1,146.1 0 0 1 282.41,571.51 L285.48,576.07 A140.6,140.6 0 0 0 283.36,577.53 Z" fill="#e8e9f1"/>
<path d="M282.30,571.58 A146.1,146.1 0 0 1 284.54,570.10 L287.53,574.72 A140.6,140.6 0 0 0 285.38,576.14 Z" fill="#e8e9f1"/>
<path d="M284.43,570.17 A146.1,146.1 0 0 1 286.69,568.73 L289.60,573.40 A140.6,140.6 0 0 0 287.42,574.78 Z" fill="#e8e9f1"/>
<path d="M286.58,568.80 A146.1,146.1 0 0 1 288.86,567.40 L291.69,572.12 A140.6,140.6 0 0 0 289.49,573.46 Z" fill="#e8e9f1"/>
<path d="M288.75,567.47 A146.1,146.1 0 0 1 291.06,566.11 L293.81,570.88 A140.6,140.6 0 0 0 291.59,572.18 Z" fill="#e8e9f1"/>
<path d="M290.95,566.17 A146.1,146.1 0 0 1 293.28,564.86 L295.94,569.67 A140.6,140.6 0 0 0 293.70,570.94 Z" fill="#e8e9f1"/>
<path d="M293.17,564.92 A146.1,146.1 0 0 1 295.52,563.64 L298.10,568.50 A140.6,140.6 0 0 0 295.84,569.73 Z" fill="#e8e9f1"/>
<path d="M295.41,563.70 A146.1,146.1 0 0 1 297.79,562.47 L300.28,567.37 A140.6,140.6 0 0 0 297.99,568.56 Z" fill="#e8e9f1"/>
<path d="M297.67,562.52 A146.1,146.1 0 0 1 300.07,561.33 L302.48,566.28 A140.6,140.6 0 0 0 300.17,567.42 Z" fill="#e8e9f1"/>
<path d="M299.95,561.39 A146.1,146.1 0 0 1 302.37,560.23 L304.69,565.22 A140.6,140.6 0 0 0 302.37,566.33 Z" fill="#e8e9f1"/>
<path d="M302.26,560.29 A146.1,146.1 0 0 1 304.69,559.18 L306.92,564.21 A140.6,140.6 0 0 0 304.58,565.27 Z" fill="#e8e9f1"/>
<path d="M304.58,559.23 A146.1,146.1 0 0 1 307.03,558.16 L309.18,563.23 A140.6,140.6 0 0 0 306.81,564.26 Z" fill="#e8e9f1"/>
<path d="M306.91,558.21 A146.1,146.1 0 0 1 309.39,557.19 L311.44,562.29 A140.6,140.6 0 0 0 309.06,563.28 Z" fill="#e8e9f1"/>
<path d="M309.27,557.24 A146.1,146.1 0 0 1 311.76,556.26 L313.73,561.39 A140.6,140.6 0 0 0 311.33,562.34 Z" fill="#e8e9f1"/>
<path d="M311.64,556.30 A146.1,146.1 0 0 1 314.15,555.37 L316.03,560.54 A140.6,140.6 0 0 0 313.61,561.44 Z" fill="#e8e9f1"/>
<path d="M314.03,555.41 A146.1,146.1 0 0 1 316.56,554.52 L318.34,559.72 A140.6,140.6 0 0 0 315.91,560.58 Z" fill="#e8e9f1"/>
<path d="M316.40,554.47 A146.2,146.2 0 0 1 318.94,553.62 L320.62,558.80 A140.75,140.75 0 0 0 318.18,559.62 Z" fill="#e8e9f1"/>
<path d="M318.82,553.66 A146.2,146.2 0 0 1 321.38,552.85 L322.92,557.92 A140.9,140.9 0 0 0 320.46,558.70 Z" fill="#e8e9f1"/>
<path d="M321.26,552.89 A146.2,146.2 0 0 1 323.82,552.13 L325.24,557.08 A141.05,141.05 0 0 0 322.76,557.81 Z" fill="#e8e9f1"/>
<path d="M323.70,552.16 A146.2,146.2 0 0 1 326.28,551.45 L327.57,556.28 A141.20000000000002,141.20000000000002 0 0 0 325.08,556.97 Z" fill="#e8e9f1"/>
<path d="M326.16,551.48 A146.2,146.2 0 0 1 328.75,550.81 L329.92,555.52 A141.35000000000002,141.35000000000002 0 0 0 327.42,556.17 Z" fill="#e8e9f1"/>
<path d="M328.63,550.84 A146.2,146.2 0 0 1 331.24,550.22 L332.29,554.80 A141.5,141.5 0 0 0 329.77,555.40 Z" fill="#e8e9f1"/>
<path d="M331.11,550.25 A146.2,146.2 0 0 1 333.73,549.67 L334.67,554.12 A141.65,141.65 0 0 0 332.14,554.68 Z" fill="#e8e9f1"/>
<path d="M333.60,549.69 A146.2,146.2 0 0 1 336.23,549.16 L337.06,553.48 A141.8,141.8 0 0 0 334.52,554.00 Z" fill="#e8e9f1"/>
<path d="M336.10,549.19 A146.2,146.2 0 0 1 338.74,548.70 L339.50,553.03 A141.8,141.8 0 0 0 336.94,553.51 Z" fill="#e8e9f1"/>
<path d="M338.61,548.72 A146.2,146.2 0 0 1 341.26,548.28 L341.94,552.63 A141.8,141.8 0 0 0 339.38,553.05 Z" fill="#e8e9f1"/>
<path d="M341.13,548.30 A146.2,146.2 0 0 1 343.78,547.91 L344.39,552.26 A141.8,141.8 0 0 0 341.82,552.65 Z" fill="#e8e9f1"/>
<path d="M343.65,547.92 A146.2,146.2 0 0 1 346.31,547.57 L346.84,551.94 A141.8,141.8 0 0 0 344.27,552.28 Z" fill="#e8e9f1"/>
<path d="M346.18,547.59 A146.2,146.2 0 0 1 348.84,547.29 L349.30,551.66 A141.8,141.8 0 0 0 346.72,551.96 Z" fill="#e8e9f1"/>
<path d="M348.72,547.30 A146.2,146.2 0 0 1 351.38,547.05 L351.76,551.43 A141.8,141.8 0 0 0 349.18,551.68 Z" fill="#e8e9f1"/>
<path d="M351.26,547.06 A146.2,146.2 0 0 1 353.93,546.85 L354.23,551.24 A141.8,141.8 0 0 0 351.64,551.44 Z" fill="#e8e9f1"/>
<path d="M353.80,546.86 A146.2,146.2 0 0 1 356.48,546.69 L356.70,551.09 A141.8,141.8 0 0 0 354.11,551.25 Z" fill="#e8e9f1"/>
<path d="M356.35,546.70 A146.2,146.2 0 0 1 359.03,546.58 L359.17,550.98 A141.8,141.8 0 0 0 356.58,551.09 Z" fill="#e8e9f1"/>
<path d="M358.90,546.59 A146.2,146.2 0 0 1 361.58,546.52 L361.65,550.92 A141.8,141.8 0 0 0 359.05,550.99 Z" fill="#e8e9f1"/>
<path d="M361.45,546.52 A146.2,146.2 0 0 1 364.13,546.50 L364.12,550.90 A141.8,141.8 0 0 0 361.53,550.92 Z" fill="#e8e9f1"/>
<path d="M364.00,546.50 A146.2,146.2 0 0 1 366.68,546.52 L366.60,550.92 A141.8,141.8 0 0 0 364.00,550.90 Z" fill="#e8e9f1"/>
<path d="M366.55,546.52 A146.2,146.2 0 0 1 369.23,546.59 L369.07,550.99 A141.8,141.8 0 0 0 366.47,550.92 Z" fill="#e8e9f1"/>
<path d="M369.10,546.59 A146.2,146.2 0 0 1 371.78,546.71 L371.54,551.10 A141.8,141.8 0 0 0 368.95,550.99 Z" fill="#e8e9f1"/>
<path d="M371.65,546.70 A146.2,146.2 0 0 1 374.33,546.87 L374.01,551.25 A141.8,141.8 0 0 0 371.42,551.09 Z" fill="#e8e9f1"/>
<path d="M374.20,546.86 A146.2,146.2 0 0 1 376.87,547.07 L376.48,551.45 A141.8,141.8 0 0 0 373.89,551.25 Z" fill="#e8e9f1"/>
<path d="M376.74,547.06 A146.2,146.2 0 0 1 379.41,547.31 L378.95,551.69 A141.8,141.8 0 0 0 376.36,551.44 Z" fill="#e8e9f1"/>
<path d="M379.28,547.30 A146.2,146.2 0 0 1 381.94,547.61 L381.40,551.97 A141.8,141.8 0 0 0 378.82,551.68 Z" fill="#e8e9f1"/>
<path d="M381.82,547.59 A146.2,146.2 0 0 1 384.47,547.94 L383.86,552.30 A141.8,141.8 0 0 0 381.28,551.96 Z" fill="#e8e9f1"/>
<path d="M384.35,547.92 A146.2,146.2 0 0 1 387.00,548.32 L386.30,552.67 A141.8,141.8 0 0 0 383.73,552.28 Z" fill="#e8e9f1"/>
<path d="M386.87,548.30 A146.2,146.2 0 0 1 389.51,548.74 L388.75,553.08 A141.8,141.8 0 0 0 386.18,552.65 Z" fill="#e8e9f1"/>
<path d="M389.39,548.72 A146.2,146.2 0 0 1 392.02,549.21 L391.18,553.53 A141.8,141.8 0 0 0 388.62,553.05 Z" fill="#e8e9f1"/>
<path d="M391.90,549.19 A146.2,146.2 0 0 1 394.52,549.72 L393.60,554.02 A141.8,141.8 0 0 0 391.06,553.51 Z" fill="#e8e9f1"/>
<path d="M394.40,549.69 A146.2,146.2 0 0 1 397.01,550.28 L396.02,554.56 A141.8,141.8 0 0 0 393.48,554.00 Z" fill="#e8e9f1"/>
<path d="M396.89,550.25 A146.2,146.2 0 0 1 399.49,550.87 L398.39,555.29 A141.65,141.65 0 0 0 395.86,554.68 Z" fill="#e8e9f1"/>
<path d="M399.37,550.84 A146.2,146.2 0 0 1 401.96,551.51 L400.74,556.05 A141.5,141.5 0 0 0 398.23,555.40 Z" fill="#e8e9f1"/>
<path d="M401.84,551.48 A146.2,146.2 0 0 1 404.42,552.20 L403.08,556.86 A141.35000000000002,141.35000000000002 0 0 0 400.58,556.17 Z" fill="#e8e9f1"/>
<path d="M404.30,552.16 A146.2,146.2 0 0 1 406.87,552.93 L405.40,557.71 A141.20000000000002,141.20000000000002 0 0 0 402.92,556.97 Z" fill="#e8e9f1"/>
<path d="M406.74,552.89 A146.2,146.2 0 0 1 409.30,553.70 L407.70,558.59 A141.05,141.05 0 0 0 405.24,557.81 Z" fill="#e8e9f1"/>
<path d="M409.18,553.66 A146.2,146.2 0 0 1 411.72,554.51 L409.99,559.52 A140.9,140.9 0 0 0 407.54,558.70 Z" fill="#e8e9f1"/>
<path d="M411.60,554.47 A146.2,146.2 0 0 1 414.12,555.36 L412.25,560.48 A140.75,140.75 0 0 0 409.82,559.62 Z" fill="#e8e9f1"/>
<path d="M413.97,555.41 A146.1,146.1 0 0 1 416.48,556.35 L414.50,561.48 A140.6,140.6 0 0 0 412.09,560.58 Z" fill="#e8e9f1"/>
<path d="M416.36,556.30 A146.1,146.1 0 0 1 418.85,557.29 L416.78,562.38 A140.6,140.6 0 0 0 414.39,561.44 Z" fill="#e8e9f1"/>
<path d="M418.73,557.24 A146.1,146.1 0 0 1 421.20,558.26 L419.05,563.33 A140.6,140.6 0 0 0 416.67,562.34 Z" fill="#e8e9f1"/>
<path d="M421.09,558.21 A146.1,146.1 0 0 1 423.54,559.28 L421.30,564.31 A140.6,140.6 0 0 0 418.94,563.28 Z" fill="#e8e9f1"/>
<path d="M423.42,559.23 A146.1,146.1 0 0 1 425.86,560.34 L423.53,565.33 A140.6,140.6 0 0 0 421.19,564.26 Z" fill="#e8e9f1"/>
<path d="M425.74,560.29 A146.1,146.1 0 0 1 428.16,561.44 L425.75,566.38 A140.6,140.6 0 0 0 423.42,565.27 Z" fill="#e8e9f1"/>
<path d="M428.05,561.39 A146.1,146.1 0 0 1 430.44,562.58 L427.94,567.48 A140.6,140.6 0 0 0 425.63,566.33 Z" fill="#e8e9f1"/>
<path d="M430.33,562.52 A146.1,146.1 0 0 1 432.70,563.76 L430.12,568.62 A140.6,140.6 0 0 0 427.83,567.42 Z" fill="#e8e9f1"/>
<path d="M432.59,563.70 A146.1,146.1 0 0 1 434.94,564.98 L432.27,569.79 A140.6,140.6 0 0 0 430.01,568.56 Z" fill="#e8e9f1"/>
<path d="M434.83,564.92 A146.1,146.1 0 0 1 437.16,566.24 L434.41,571.00 A140.6,140.6 0 0 0 432.16,569.73 Z" fill="#e8e9f1"/>
<path d="M437.05,566.17 A146.1,146.1 0 0 1 439.36,567.53 L436.52,572.25 A140.6,140.6 0 0 0 434.30,570.94 Z" fill="#e8e9f1"/>
<path d="M439.25,567.47 A146.1,146.1 0 0 1 441.53,568.87 L438.61,573.53 A140.6,140.6 0 0 0 436.41,572.18 Z" fill="#e8e9f1"/>
<path d="M441.42,568.80 A146.1,146.1 0 0 1 443.68,570.24 L440.68,574.85 A140.6,140.6 0 0 0 438.51,573.46 Z" fill="#e8e9f1"/>
<path d="M443.57,570.17 A146.1,146.1 0 0 1 445.80,571.65 L442.72,576.21 A140.6,140.6 0 0 0 440.58,574.78 Z" fill="#e8e9f1"/>
<path d="M445.70,571.58 A146.1,146.1 0 0 1 447.90,573.10 L444.75,577.60 A140.6,140.6 0 0 0 442.62,576.14 Z" fill="#e8e9f1"/>
<path d="M447.80,573.02 A146.1,146.1 0 0 1 449.98,574.58 L446.74,579.02 A140.6,140.6 0 0 0 444.64,577.53 Z" fill="#e8e9f1"/>
<path d="M449.88,574.50 A146.1,146.1 0 0 1 452.03,576.10 L448.71,580.49 A140.6,140.6 0 0 0 446.64,578.95 Z" fill="#e8e9f1"/>
<path d="M451.93,576.02 A146.1,146.1 0 0 1 454.05,577.65 L450.66,581.98 A140.6,140.6 0 0 0 448.62,580.41 Z" fill="#e8e9f1"/>
<path d="M453.95,577.57 A146.1,146.1 0 0 1 456.04,579.24 L452.58,583.51 A140.6,140.6 0 0 0 450.56,581.91 Z" fill="#e8e9f1"/>
<path d="M455.94,579.16 A146.1,146.1 0 0 1 458.01,580.86 L454.47,585.07 A140.6,140.6 0 0 0 452.48,583.43 Z" fill="#e8e9f1"/>
<path d="M457.91,580.78 A146.1,146.1 0 0 1 459.95,582.52 L456.33,586.67 A140.6,140.6 0 0 0 454.38,584.99 Z" fill="#e8e9f1"/>
<path d="M459.85,582.44 A146.1,146.1 0 0 1 461.85,584.21 L458.17,588.30 A140.6,140.6 0 0 0 456.24,586.59 Z" fill="#e8e9f1"/>
<path d="M461.76,584.13 A146.1,146.1 0 0 1 463.73,585.94 L459.98,589.96 A140.6,140.6 0 0 0 458.08,588.21 Z" fill="#e8e9f1"/>
<path d="M463.64,585.85 A146.1,146.1 0 0 1 465.58,587.69 L461.76,591.65 A140.6,140.6 0 0 0 459.89,589.87 Z" fill="#e8e9f1"/>
<path d="M465.49,587.60 A146.1,146.1 0 0 1 467.40,589.48 L463.51,593.37 A140.6,140.6 0 0 0 461.67,591.56 Z" fill="#e8e9f1"/>
<path d="M467.31,589.39 A146.1,146.1 0 0 1 469.18,591.30 L465.22,595.12 A140.6,140.6 0 0 0 463.42,593.28 Z" fill="#e8e9f1"/>
<path d="M469.10,591.21 A146.1,146.1 0 0 1 470.94,593.15 L466.91,596.90 A140.6,140.6 0 0 0 465.14,595.03 Z" fill="#e8e9f1"/>
<path d="M470.85,593.06 A146.1,146.1 0 0 1 472.66,595.03 L468.57,598.71 A140.6,140.6 0 0 0 466.83,596.81 Z" fill="#e8e9f1"/>
<path d="M472.57,594.94 A146.1,146.1 0 0 1 474.35,596.95 L470.19,600.55 A140.6,140.6 0 0 0 468.49,598.62 Z" fill="#e8e9f1"/>
<path d="M474.26,596.85 A146.1,146.1 0 0 1 476.00,598.89 L471.78,602.42 A140.6,140.6 0 0 0 470.11,600.46 Z" fill="#e8e9f1"/>
<path d="M475.92,598.79 A146.1,146.1 0 0 1 477.62,600.86 L473.34,604.31 A140.6,140.6 0 0 0 471.71,602.32 Z" fill="#e8e9f1"/>
<path d="M477.54,600.76 A146.1,146.1 0 0 1 479.21,602.85 L474.87,606.23 A140.6,140.6 0 0 0 473.27,604.22 Z" fill="#e8e9f1"/>
<path d="M479.13,602.75 A146.1,146.1 0 0 1 480.76,604.88 L476.36,608.18 A140.6,140.6 0 0 0 474.79,606.14 Z" fill="#e8e9f1"/>
<path d="M480.68,604.77 A146.1,146.1 0 0 1 482.27,606.93 L477.82,610.16 A140.6,140.6 0 0 0 476.29,608.08 Z" fill="#e8e9f1"/>
<path d="M482.20,606.82 A146.1,146.1 0 0 1 483.75,609.00 L479.24,612.16 A140.6,140.6 0 0 0 477.75,610.06 Z" fill="#e8e9f1"/>
<path d="M483.68,608.90 A146.1,146.1 0 0 1 485.19,611.11 L480.63,614.18 A140.6,140.6 0 0 0 479.17,612.06 Z" fill="#e8e9f1"/>
<path d="M485.12,611.00 A146.1,146.1 0 0 1 486.60,613.24 L481.98,616.23 A140.6,140.6 0 0 0 480.56,614.08 Z" fill="#e8e9f1"/>
<path d="M486.53,613.13 A146.1,146.1 0 0 1 487.97,615.39 L483.30,618.30 A140.6,140.6 0 0 0 481.92,616.12 Z" fill="#e8e9f1"/>
<path d="M487.90,615.28 A146.1,146.1 0 0 1 489.30,617.56 L484.58,620.39 A140.6,140.6 0 0 0 483.24,618.19 Z" fill="#e8e9f1"/>
<path d="M489.23,617.45 A146.1,146.1 0 0 1 490.59,619.76 L485.82,622.51 A140.6,140.6 0 0 0 484.52,620.29 Z" fill="#e8e9f1"/>
<path d="M490.53,619.65 A146.1,146.1 0 0 1 491.84,621.98 L487.03,624.64 A140.6,140.6 0 0 0 485.76,622.40 Z" fill="#e8e9f1"/>
<path d="M491.78,621.87 A146.1,146.1 0 0 1 493.06,624.22 L488.20,626.80 A140.6,140.6 0 0 0 486.97,624.54 Z" fill="#e8e9f1"/>
<path d="M493.00,624.11 A146.1,146.1 0 0 1 494.23,626.49 L489.33,628.98 A140.6,140.6 0 0 0 488.14,626.69 Z" fill="#e8e9f1"/>
<path d="M494.18,626.37 A146.1,146.1 0 0 1 495.37,628.77 L490.42,631.18 A140.6,140.6 0 0 0 489.28,628.87 Z" fill="#e8e9f1"/>
<path d="M495.31,628.65 A146.1,146.1 0 0 1 496.47,631.07 L491.48,633.39 A140.6,140.6 0 0 0 490.37,631.07 Z" fill="#e8e9f1"/>
<path d="M496.41,630.96 A146.1,146.1 0 0 1 497.52,633.39 L492.49,635.62 A140.6,140.6 0 0 0 491.43,633.28 Z" fill="#e8e9f1"/>
<path d="M497.47,633.28 A146.1,146.1 0 0 1 498.54,635.73 L493.47,637.88 A140.6,140.6 0 0 0 492.44,635.51 Z" fill="#e8e9f1"/>
<path d="M498.49,635.61 A146.1,146.1 0 0 1 499.51,638.09 L494.41,640.14 A140.6,140.6 0 0 0 493.42,637.76 Z" fill="#e8e9f1"/>
<path d="M499.46,637.97 A146.1,146.1 0 0 1 500.44,640.46 L495.31,642.43 A140.6,140.6 0 0 0 494.36,640.03 Z" fill="#e8e9f1"/>
<path d="M500.40,640.34 A146.1,146.1 0 0 1 501.33,642.85 L496.16,644.73 A140.6,140.6 0 0 0 495.26,642.31 Z" fill="#e8e9f1"/>
<path d="M501.29,642.73 A146.1,146.1 0 0 1 502.18,645.26 L496.98,647.04 A140.6,140.6 0 0 0 496.12,644.61 Z" fill="#e8e9f1"/>
<path d="M502.14,645.13 A146.1,146.1 0 0 1 502.99,647.67 L497.76,649.37 A140.6,140.6 0 0 0 496.94,646.93 Z" fill="#e8e9f1"/>
<path d="M502.95,647.55 A146.1,146.1 0 0 1 503.75,650.11 L498.49,651.71 A140.6,140.6 0 0 0 497.72,649.25 Z" fill="#e8e9f1"/>
<path d="M503.68,650.00 A146.06,146.06 0 0 1 504.44,652.56 L499.24,654.05 A140.66,140.66 0 0 0 498.51,651.57 Z" fill="#e8e9f1"/>
<path d="M504.36,652.45 A146.01999999999998,146.01999999999998 0 0 1 505.08,655.03 L499.96,656.40 A140.72,140.72 0 0 0 499.27,653.91 Z" fill="#e8e9f1"/>
<path d="M505.01,654.92 A145.98,145.98 0 0 1 505.67,657.51 L500.63,658.76 A140.78,140.78 0 0 0 499.98,656.26 Z" fill="#e8e9f1"/>
<path d="M505.60,657.39 A145.94,145.94 0 0 1 506.23,659.99 L501.26,661.14 A140.84,140.84 0 0 0 500.66,658.63 Z" fill="#e8e9f1"/>
<path d="M506.16,659.88 A145.9,145.9 0 0 1 506.74,662.49 L501.85,663.53 A140.9,140.9 0 0 0 501.29,661.00 Z" fill="#e8e9f1"/>
<path d="M506.67,662.37 A145.85999999999999,145.85999999999999 0 0 1 507.20,664.99 L502.39,665.92 A140.96,140.96 0 0 0 501.88,663.39 Z" fill="#e8e9f1"/>
<path d="M507.14,664.88 A145.82,145.82 0 0 1 507.63,667.50 L502.90,668.33 A141.01999999999998,141.01999999999998 0 0 0 502.43,665.79 Z" fill="#e8e9f1"/>
<path d="M507.57,667.39 A145.78,145.78 0 0 1 508.01,670.02 L503.36,670.75 A141.07999999999998,141.07999999999998 0 0 0 502.94,668.20 Z" fill="#e8e9f1"/>
<path d="M507.95,669.90 A145.73999999999998,145.73999999999998 0 0 1 508.34,672.54 L503.78,673.18 A141.14,141.14 0 0 0 503.40,670.62 Z" fill="#e8e9f1"/>
<path d="M508.28,672.42 A145.7,145.7 0 0 1 508.63,675.07 L504.16,675.61 A141.2,141.2 0 0 0 503.83,673.05 Z" fill="#e8e9f1"/>
<path d="M508.61,674.94 A145.7,145.7 0 0 1 508.92,677.60 L504.44,678.06 A141.2,141.2 0 0 0 504.15,675.49 Z" fill="#e8e9f1"/>
<path d="M508.90,677.47 A145.7,145.7 0 0 1 509.16,680.13 L504.67,680.52 A141.2,141.2 0 0 0 504.43,677.94 Z" fill="#e8e9f1"/>
<path d="M509.15,680.00 A145.7,145.7 0 0 1 509.35,682.66 L504.86,682.97 A141.2,141.2 0 0 0 504.66,680.39 Z" fill="#e8e9f1"/>
<path d="M509.35,682.54 A145.7,145.7 0 0 1 509.51,685.20 L505.01,685.43 A141.2,141.2 0 0 0 504.86,682.85 Z" fill="#e8e9f1"/>
<path d="M509.50,685.07 A145.7,145.7 0 0 1 509.62,687.74 L505.12,687.90 A141.2,141.2 0 0 0 505.01,685.31 Z" fill="#e8e9f1"/>
<path d="M509.61,687.62 A145.7,145.7 0 0 1 509.68,690.28 L505.18,690.36 A141.2,141.2 0 0 0 505.11,687.77 Z" fill="#e8e9f1"/>
<circle cx="220.94" cy="684.87" r="2.35" fill="#f4f5fa" stroke="#aab0c2" stroke-width="0.45"/>
<ellipse cx="219.49" cy="686.50" rx="1.60" ry="0.69" transform="rotate(34 219.49 686.50)" fill="#2f374a" opacity="0.73"/>
<circle cx="221.46" cy="685.05" r="0.8" fill="#ffffff"/>
<circle cx="222.80" cy="682.13" r="0.95" fill="#d0963a" opacity="0.85"/>
<circle cx="219.30" cy="681.87" r="1.0" fill="#d39c42" opacity="0.85"/>
<circle cx="221.13" cy="679.10" r="2.35" fill="#f4f5fa" stroke="#aab0c2" stroke-width="0.45"/>
<ellipse cx="222.09" cy="680.63" rx="0.99" ry="0.69" transform="rotate(105 222.09 680.63)" fill="#2f374a" opacity="0.65"/>
<ellipse cx="221.47" cy="677.52" rx="1.26" ry="0.80" transform="rotate(87 221.47 677.52)" fill="#2f374a" opacity="0.57"/>
<circle cx="220.46" cy="678.24" r="0.8" fill="#ffffff"/>
<circle cx="223.33" cy="676.46" r="0.95" fill="#d0963a" opacity="0.85"/>
<circle cx="219.86" cy="676.06" r="1.0" fill="#d39c42" opacity="0.85"/>
<circle cx="222.11" cy="672.94" r="2.35" fill="#f4f5fa" stroke="#aab0c2" stroke-width="0.45"/>
<ellipse cx="221.42" cy="673.24" rx="0.86" ry="0.47" transform="rotate(87 221.42 673.24)" fill="#2f374a" opacity="0.54"/>
<circle cx="224.17" cy="670.36" r="0.95" fill="#d0963a" opacity="0.85"/>
<circle cx="220.72" cy="669.80" r="1.0" fill="#d39c42" opacity="0.85"/>
<circle cx="222.78" cy="666.82" r="2.47" fill="#f4f5fa" stroke="#aab0c2" stroke-width="0.45"/>
<ellipse cx="222.22" cy="666.37" rx="0.94" ry="0.74" transform="rotate(53 222.22 666.37)" fill="#2f374a" opacity="0.53"/>
<ellipse cx="223.60" cy="666.76" rx="1.29" ry="0.56" transform="rotate(153 223.60 666.76)" fill="#2f374a" opacity="0.87"/>
<circle cx="223.77" cy="667.58" r="0.8" fill="#ffffff"/>
<circle cx="225.40" cy="664.41" r="0.95" fill="#d0963a" opacity="0.85"/>
<circle cx="224.35" cy="661.29" r="2.32" fill="#f4f5fa" stroke="#aab0c2" stroke-width="0.45"/>
<ellipse cx="224.39" cy="659.60" rx="0.91" ry="0.63" transform="rotate(17 224.39 659.60)" fill="#2f374a" opacity="0.63"/>
<circle cx="226.77" cy="658.93" r="0.95" fill="#d0963a" opacity="0.85"/>
<circle cx="225.26" cy="655.49" r="2.61" fill="#f4f5fa" stroke="#aab0c2" stroke-width="0.45"/>
<ellipse cx="225.44" cy="656.06" rx="0.83" ry="0.69" transform="rotate(56 225.44 656.06)" fill="#2f374a" opacity="0.53"/>
<circle cx="225.65" cy="656.53" r="0.8" fill="#ffffff"/>
<circle cx="228.40" cy="653.40" r="0.95" fill="#d0963a" opacity="0.85"/>
<circle cx="224.37" cy="652.23" r="1.0" fill="#d39c42" opacity="0.85"/>
<circle cx="227.10" cy="650.26" r="2.46" fill="#f4f5fa" stroke="#aab0c2" stroke-width="0.45"/>
<ellipse cx="226.40" cy="649.17" rx="1.43" ry="0.82" transform="rotate(127 226.40 649.17)" fill="#2f374a" opacity="0.64"/>
<circle cx="230.14" cy="648.24" r="0.95" fill="#d0963a" opacity="0.85"/>
<circle cx="228.58" cy="645.01" r="2.49" fill="#f4f5fa" stroke="#aab0c2" stroke-width="0.45"/>
<ellipse cx="228.05" cy="644.55" rx="1.11" ry="0.68" transform="rotate(112 228.05 644.55)" fill="#2f374a" opacity="0.74"/>
<circle cx="228.94" cy="643.83" r="0.8" fill="#ffffff"/>
<circle cx="231.97" cy="643.20" r="0.95" fill="#d0963a" opacity="0.85"/>
<circle cx="230.73" cy="639.51" r="2.47" fill="#f4f5fa" stroke="#aab0c2" stroke-width="0.45"/>
<ellipse cx="231.44" cy="638.52" rx="1.40" ry="0.46" transform="rotate(15 231.44 638.52)" fill="#2f374a" opacity="0.74"/>
<ellipse cx="230.56" cy="640.46" rx="1.20" ry="0.70" transform="rotate(126 230.56 640.46)" fill="#2f374a" opacity="0.87"/>
<circle cx="231.59" cy="640.39" r="0.8" fill="#ffffff"/>
<circle cx="234.12" cy="637.82" r="0.95" fill="#d0963a" opacity="0.85"/>
<circle cx="233.44" cy="633.95" r="2.32" fill="#f4f5fa" stroke="#aab0c2" stroke-width="0.45"/>
<ellipse cx="232.84" cy="633.91" rx="1.06" ry="0.72" transform="rotate(161 232.84 633.91)" fill="#2f374a" opacity="0.58"/>
<circle cx="233.15" cy="632.68" r="0.8" fill="#ffffff"/>
<circle cx="236.60" cy="632.27" r="0.95" fill="#d0963a" opacity="0.85"/>
<circle cx="235.75" cy="628.81" r="2.61" fill="#f4f5fa" stroke="#aab0c2" stroke-width="0.45"/>
<ellipse cx="235.75" cy="630.23" rx="1.52" ry="0.47" transform="rotate(63 235.75 630.23)" fill="#2f374a" opacity="0.53"/>
<circle cx="239.08" cy="627.31" r="0.95" fill="#d0963a" opacity="0.85"/>
<circle cx="238.27" cy="624.32" r="2.53" fill="#f4f5fa" stroke="#aab0c2" stroke-width="0.45"/>
<ellipse cx="237.17" cy="624.20" rx="1.34" ry="0.74" transform="rotate(94 237.17 624.20)" fill="#2f374a" opacity="0.84"/>
<circle cx="241.51" cy="622.86" r="0.95" fill="#d0963a" opacity="0.85"/>
<circle cx="240.44" cy="619.63" r="2.39" fill="#f4f5fa" stroke="#aab0c2" stroke-width="0.45"/>
<ellipse cx="239.85" cy="620.18" rx="1.32" ry="0.68" transform="rotate(64 239.85 620.18)" fill="#2f374a" opacity="0.76"/>
<circle cx="241.49" cy="619.47" r="0.8" fill="#ffffff"/>
<circle cx="244.10" cy="618.51" r="0.95" fill="#d0963a" opacity="0.85"/>
<circle cx="240.27" cy="616.14" r="1.0" fill="#d39c42" opacity="0.85"/>
<circle cx="243.44" cy="614.83" r="2.76" fill="#f4f5fa" stroke="#aab0c2" stroke-width="0.45"/>
<ellipse cx="243.94" cy="614.61" rx="1.45" ry="0.83" transform="rotate(118 243.94 614.61)" fill="#2f374a" opacity="0.77"/>
<circle cx="243.19" cy="615.63" r="0.8" fill="#ffffff"/>
<circle cx="247.12" cy="613.84" r="0.95" fill="#d0963a" opacity="0.85"/>
<circle cx="243.39" cy="611.32" r="1.0" fill="#d39c42" opacity="0.85"/>
<circle cx="247.11" cy="609.75" r="2.70" fill="#f4f5fa" stroke="#aab0c2" stroke-width="0.45"/>
<ellipse cx="248.19" cy="609.33" rx="1.56" ry="0.65" transform="rotate(97 248.19 609.33)" fill="#2f374a" opacity="0.90"/>
<circle cx="246.81" cy="608.93" r="0.8" fill="#ffffff"/>
<circle cx="250.67" cy="608.81" r="0.95" fill="#d0963a" opacity="0.85"/>
<circle cx="247.05" cy="606.13" r="1.0" fill="#d39c42" opacity="0.85"/>
<circle cx="250.40" cy="605.36" r="2.82" fill="#f4f5fa" stroke="#aab0c2" stroke-width="0.45"/>
<ellipse cx="250.96" cy="606.00" rx="1.53" ry="0.60" transform="rotate(113 250.96 606.00)" fill="#2f374a" opacity="0.73"/>
<ellipse cx="250.27" cy="603.95" rx="1.17" ry="0.71" transform="rotate(170 250.27 603.95)" fill="#2f374a" opacity="0.58"/>
<circle cx="253.96" cy="604.53" r="0.95" fill="#d0963a" opacity="0.85"/>
<circle cx="253.90" cy="600.77" r="2.70" fill="#f4f5fa" stroke="#aab0c2" stroke-width="0.45"/>
<ellipse cx="254.20" cy="601.51" rx="1.05" ry="0.84" transform="rotate(16 254.20 601.51)" fill="#2f374a" opacity="0.87"/>
<circle cx="252.86" cy="601.48" r="0.8" fill="#ffffff"/>
<circle cx="257.61" cy="600.17" r="0.95" fill="#d0963a" opacity="0.85"/>
<circle cx="258.59" cy="595.97" r="2.44" fill="#f4f5fa" stroke="#aab0c2" stroke-width="0.45"/>
<ellipse cx="257.88" cy="595.37" rx="1.45" ry="0.48" transform="rotate(5 257.88 595.37)" fill="#2f374a" opacity="0.82"/>
<ellipse cx="258.57" cy="596.73" rx="0.91" ry="0.51" transform="rotate(142 258.57 596.73)" fill="#2f374a" opacity="0.71"/>
<circle cx="262.05" cy="595.30" r="0.95" fill="#d0963a" opacity="0.85"/>
<circle cx="262.71" cy="591.10" r="2.85" fill="#f4f5fa" stroke="#aab0c2" stroke-width="0.45"/>
<ellipse cx="263.13" cy="590.58" rx="1.15" ry="0.67" transform="rotate(136 263.13 590.58)" fill="#2f374a" opacity="0.83"/>
<ellipse cx="261.86" cy="591.91" rx="1.53" ry="0.55" transform="rotate(93 261.86 591.91)" fill="#2f374a" opacity="0.77"/>
<circle cx="266.48" cy="590.87" r="0.95" fill="#d0963a" opacity="0.85"/>
<circle cx="267.10" cy="586.97" r="2.41" fill="#f4f5fa" stroke="#aab0c2" stroke-width="0.45"/>
<ellipse cx="266.45" cy="586.13" rx="0.96" ry="0.66" transform="rotate(103 266.45 586.13)" fill="#2f374a" opacity="0.70"/>
<circle cx="270.84" cy="586.86" r="0.95" fill="#d0963a" opacity="0.85"/>
<circle cx="267.87" cy="583.48" r="1.0" fill="#d39c42" opacity="0.85"/>
<circle cx="271.11" cy="583.15" r="2.56" fill="#f4f5fa" stroke="#aab0c2" stroke-width="0.45"/>
<ellipse cx="272.54" cy="582.18" rx="0.87" ry="0.52" transform="rotate(22 272.54 582.18)" fill="#2f374a" opacity="0.87"/>
<ellipse cx="272.49" cy="582.49" rx="1.12" ry="0.55" transform="rotate(144 272.49 582.49)" fill="#2f374a" opacity="0.70"/>
<circle cx="271.61" cy="582.04" r="0.8" fill="#ffffff"/>
<circle cx="274.99" cy="583.35" r="0.95" fill="#d0963a" opacity="0.85"/>
<circle cx="275.10" cy="580.23" r="2.28" fill="#f4f5fa" stroke="#aab0c2" stroke-width="0.45"/>
<ellipse cx="276.11" cy="579.10" rx="1.42" ry="0.46" transform="rotate(23 276.11 579.10)" fill="#2f374a" opacity="0.58"/>
<ellipse cx="276.02" cy="580.35" rx="1.08" ry="0.70" transform="rotate(58 276.02 580.35)" fill="#2f374a" opacity="0.54"/>
<circle cx="278.80" cy="580.35" r="0.95" fill="#d0963a" opacity="0.85"/>
<circle cx="276.08" cy="576.77" r="1.0" fill="#d39c42" opacity="0.85"/>
<circle cx="279.32" cy="577.03" r="2.38" fill="#f4f5fa" stroke="#aab0c2" stroke-width="0.45"/>
<ellipse cx="280.11" cy="575.86" rx="1.31" ry="0.78" transform="rotate(4 280.11 575.86)" fill="#2f374a" opacity="0.75"/>
<circle cx="283.01" cy="577.28" r="0.95" fill="#d0963a" opacity="0.85"/>
<circle cx="283.68" cy="573.94" r="2.35" fill="#f4f5fa" stroke="#aab0c2" stroke-width="0.45"/>
<ellipse cx="283.54" cy="573.04" rx="0.99" ry="0.75" transform="rotate(154 283.54 573.04)" fill="#2f374a" opacity="0.82"/>
<circle cx="287.37" cy="574.34" r="0.95" fill="#d0963a" opacity="0.85"/>
<circle cx="287.94" cy="571.32" r="2.85" fill="#f4f5fa" stroke="#aab0c2" stroke-width="0.45"/>
<ellipse cx="286.62" cy="571.24" rx="1.51" ry="0.50" transform="rotate(17 286.62 571.24)" fill="#2f374a" opacity="0.54"/>
<circle cx="288.89" cy="570.76" r="0.8" fill="#ffffff"/>
<circle cx="291.54" cy="571.74" r="0.95" fill="#d0963a" opacity="0.85"/>
<circle cx="292.26" cy="568.45" r="2.34" fill="#f4f5fa" stroke="#aab0c2" stroke-width="0.45"/>
<ellipse cx="293.02" cy="569.27" rx="1.46" ry="0.59" transform="rotate(64 293.02 569.27)" fill="#2f374a" opacity="0.78"/>
<circle cx="295.97" cy="569.20" r="0.95" fill="#d0963a" opacity="0.85"/>
<circle cx="296.58" cy="565.85" r="2.78" fill="#f4f5fa" stroke="#aab0c2" stroke-width="0.45"/>
<ellipse cx="295.28" cy="566.95" rx="1.29" ry="0.81" transform="rotate(137 295.28 566.95)" fill="#2f374a" opacity="0.69"/>
<circle cx="296.36" cy="567.18" r="0.8" fill="#ffffff"/>
<circle cx="300.34" cy="566.89" r="0.95" fill="#d0963a" opacity="0.85"/>
<circle cx="298.30" cy="562.88" r="1.0" fill="#d39c42" opacity="0.85"/>
<circle cx="301.46" cy="563.86" r="2.67" fill="#f4f5fa" stroke="#aab0c2" stroke-width="0.45"/>
<ellipse cx="302.35" cy="564.26" rx="0.88" ry="0.61" transform="rotate(14 302.35 564.26)" fill="#2f374a" opacity="0.67"/>
<circle cx="301.37" cy="564.40" r="0.8" fill="#ffffff"/>
<circle cx="304.98" cy="564.64" r="0.95" fill="#d0963a" opacity="0.85"/>
<circle cx="306.65" cy="561.62" r="2.34" fill="#f4f5fa" stroke="#aab0c2" stroke-width="0.45"/>
<ellipse cx="307.35" cy="561.14" rx="0.96" ry="0.52" transform="rotate(73 307.35 561.14)" fill="#2f374a" opacity="0.71"/>
<ellipse cx="308.26" cy="561.89" rx="1.36" ry="0.79" transform="rotate(144 308.26 561.89)" fill="#2f374a" opacity="0.75"/>
<circle cx="306.47" cy="561.18" r="0.8" fill="#ffffff"/>
<circle cx="310.08" cy="562.42" r="0.95" fill="#d0963a" opacity="0.85"/>
<circle cx="312.05" cy="558.90" r="2.38" fill="#f4f5fa" stroke="#aab0c2" stroke-width="0.45"/>
<ellipse cx="312.82" cy="558.17" rx="1.12" ry="0.81" transform="rotate(147 312.82 558.17)" fill="#2f374a" opacity="0.85"/>
<circle cx="315.62" cy="560.26" r="0.95" fill="#d0963a" opacity="0.85"/>
<circle cx="314.07" cy="556.03" r="1.0" fill="#d39c42" opacity="0.85"/>
<circle cx="317.77" cy="556.69" r="2.74" fill="#f4f5fa" stroke="#aab0c2" stroke-width="0.45"/>
<ellipse cx="317.01" cy="557.87" rx="1.04" ry="0.49" transform="rotate(144 317.01 557.87)" fill="#2f374a" opacity="0.86"/>
<ellipse cx="318.79" cy="555.28" rx="1.02" ry="0.83" transform="rotate(9 318.79 555.28)" fill="#2f374a" opacity="0.62"/>
<circle cx="317.13" cy="557.28" r="0.8" fill="#ffffff"/>
<circle cx="321.25" cy="558.14" r="0.95" fill="#d0963a" opacity="0.85"/>
<circle cx="319.92" cy="553.93" r="1.0" fill="#d39c42" opacity="0.85"/>
<circle cx="323.48" cy="555.13" r="2.56" fill="#f4f5fa" stroke="#aab0c2" stroke-width="0.45"/>
<ellipse cx="324.00" cy="554.36" rx="1.58" ry="0.46" transform="rotate(137 324.00 554.36)" fill="#2f374a" opacity="0.75"/>
<ellipse cx="322.43" cy="554.58" rx="0.84" ry="0.53" transform="rotate(72 322.43 554.58)" fill="#2f374a" opacity="0.65"/>
<circle cx="324.53" cy="555.08" r="0.8" fill="#ffffff"/>
<circle cx="326.75" cy="556.15" r="0.95" fill="#d0963a" opacity="0.85"/>
<circle cx="325.68" cy="552.23" r="1.0" fill="#d39c42" opacity="0.85"/>
<circle cx="329.06" cy="553.13" r="2.45" fill="#f4f5fa" stroke="#aab0c2" stroke-width="0.45"/>
<ellipse cx="330.05" cy="552.58" rx="1.28" ry="0.75" transform="rotate(14 330.05 552.58)" fill="#2f374a" opacity="0.52"/>
<circle cx="332.31" cy="554.39" r="0.95" fill="#d0963a" opacity="0.85"/>
<circle cx="331.49" cy="550.78" r="1.0" fill="#d39c42" opacity="0.85"/>
<circle cx="334.87" cy="551.89" r="2.30" fill="#f4f5fa" stroke="#aab0c2" stroke-width="0.45"/>
<ellipse cx="334.80" cy="550.82" rx="1.14" ry="0.65" transform="rotate(107 334.80 550.82)" fill="#2f374a" opacity="0.61"/>
<circle cx="334.98" cy="552.04" r="0.8" fill="#ffffff"/>
<circle cx="337.99" cy="552.90" r="0.95" fill="#d0963a" opacity="0.85"/>
<circle cx="337.37" cy="549.56" r="1.0" fill="#d39c42" opacity="0.85"/>
<circle cx="340.63" cy="550.62" r="2.30" fill="#f4f5fa" stroke="#aab0c2" stroke-width="0.45"/>
<ellipse cx="341.43" cy="550.08" rx="1.42" ry="0.68" transform="rotate(5 341.43 550.08)" fill="#2f374a" opacity="0.75"/>
<circle cx="339.46" cy="550.43" r="0.8" fill="#ffffff"/>
<circle cx="343.74" cy="551.95" r="0.95" fill="#d0963a" opacity="0.85"/>
<circle cx="343.26" cy="548.59" r="1.0" fill="#d39c42" opacity="0.85"/>
<circle cx="346.10" cy="549.93" r="2.30" fill="#f4f5fa" stroke="#aab0c2" stroke-width="0.45"/>
<ellipse cx="347.62" cy="550.67" rx="1.18" ry="0.84" transform="rotate(77 347.62 550.67)" fill="#2f374a" opacity="0.60"/>
<circle cx="349.14" cy="551.28" r="0.95" fill="#d0963a" opacity="0.85"/>
<circle cx="348.79" cy="547.90" r="1.0" fill="#d39c42" opacity="0.85"/>
<circle cx="352.09" cy="548.93" r="2.30" fill="#f4f5fa" stroke="#aab0c2" stroke-width="0.45"/>
<ellipse cx="353.78" cy="549.92" rx="1.37" ry="0.47" transform="rotate(44 353.78 549.92)" fill="#2f374a" opacity="0.67"/>
<ellipse cx="353.44" cy="550.01" rx="0.92" ry="0.60" transform="rotate(64 353.44 550.01)" fill="#2f374a" opacity="0.56"/>
<circle cx="352.44" cy="548.96" r="0.8" fill="#ffffff"/>
<circle cx="355.10" cy="550.78" r="0.95" fill="#d0963a" opacity="0.85"/>
<circle cx="354.89" cy="547.39" r="1.0" fill="#d39c42" opacity="0.85"/>
<circle cx="358.87" cy="548.68" r="2.30" fill="#f4f5fa" stroke="#aab0c2" stroke-width="0.45"/>
<ellipse cx="359.67" cy="547.68" rx="0.89" ry="0.81" transform="rotate(43 359.67 547.68)" fill="#2f374a" opacity="0.81"/>
<circle cx="361.79" cy="550.52" r="0.95" fill="#d0963a" opacity="0.85"/>
<circle cx="361.74" cy="547.12" r="1.0" fill="#d39c42" opacity="0.85"/>
<circle cx="365.49" cy="548.79" r="2.30" fill="#f4f5fa" stroke="#aab0c2" stroke-width="0.45"/>
<ellipse cx="366.39" cy="548.40" rx="1.00" ry="0.84" transform="rotate(34 366.39 548.40)" fill="#2f374a" opacity="0.87"/>
<circle cx="368.33" cy="550.57" r="0.95" fill="#d0963a" opacity="0.85"/>
<circle cx="368.43" cy="547.17" r="1.0" fill="#d39c42" opacity="0.85"/>
<circle cx="371.81" cy="549.19" r="2.24" fill="#f4f5fa" stroke="#aab0c2" stroke-width="0.45"/>
<ellipse cx="370.14" cy="549.41" rx="0.98" ry="0.56" transform="rotate(7 370.14 549.41)" fill="#2f374a" opacity="0.80"/>
<circle cx="374.57" cy="550.89" r="0.95" fill="#d0963a" opacity="0.85"/>
<circle cx="374.83" cy="547.50" r="1.0" fill="#d39c42" opacity="0.85"/>
<circle cx="377.59" cy="549.55" r="2.30" fill="#f4f5fa" stroke="#aab0c2" stroke-width="0.45"/>
<ellipse cx="377.10" cy="549.34" rx="1.20" ry="0.50" transform="rotate(61 377.10 549.34)" fill="#2f374a" opacity="0.85"/>
<circle cx="380.28" cy="551.43" r="0.95" fill="#d0963a" opacity="0.85"/>
<circle cx="380.67" cy="548.06" r="1.0" fill="#d39c42" opacity="0.85"/>
<circle cx="382.90" cy="549.98" r="2.30" fill="#f4f5fa" stroke="#aab0c2" stroke-width="0.45"/>
<ellipse cx="383.74" cy="550.19" rx="0.92" ry="0.51" transform="rotate(70 383.74 550.19)" fill="#2f374a" opacity="0.83"/>
<circle cx="385.49" cy="552.13" r="0.95" fill="#d0963a" opacity="0.85"/>
<circle cx="386.00" cy="548.77" r="1.0" fill="#d39c42" opacity="0.85"/>
<circle cx="388.12" cy="550.86" r="2.30" fill="#f4f5fa" stroke="#aab0c2" stroke-width="0.45"/>
<ellipse cx="387.65" cy="550.83" rx="1.50" ry="0.48" transform="rotate(17 387.65 550.83)" fill="#2f374a" opacity="0.53"/>
<circle cx="390.64" cy="553.02" r="0.95" fill="#d0963a" opacity="0.85"/>
<circle cx="391.28" cy="549.68" r="1.0" fill="#d39c42" opacity="0.85"/>
<circle cx="393.18" cy="551.70" r="2.30" fill="#f4f5fa" stroke="#aab0c2" stroke-width="0.45"/>
<ellipse cx="391.64" cy="550.59" rx="1.53" ry="0.69" transform="rotate(56 391.64 550.59)" fill="#2f374a" opacity="0.78"/>
<circle cx="392.87" cy="551.08" r="0.8" fill="#ffffff"/>
<circle cx="395.61" cy="554.06" r="0.95" fill="#d0963a" opacity="0.85"/>
<circle cx="396.36" cy="550.74" r="1.0" fill="#d39c42" opacity="0.85"/>
<circle cx="398.68" cy="552.85" r="2.35" fill="#f4f5fa" stroke="#aab0c2" stroke-width="0.45"/>
<ellipse cx="397.24" cy="553.07" rx="1.26" ry="0.82" transform="rotate(128 397.24 553.07)" fill="#2f374a" opacity="0.88"/>
<circle cx="400.91" cy="555.67" r="0.95" fill="#d0963a" opacity="0.85"/>
<circle cx="401.87" cy="552.11" r="1.0" fill="#d39c42" opacity="0.85"/>
<circle cx="404.30" cy="554.83" r="2.62" fill="#f4f5fa" stroke="#aab0c2" stroke-width="0.45"/>
<ellipse cx="403.34" cy="554.62" rx="1.38" ry="0.66" transform="rotate(174 403.34 554.62)" fill="#2f374a" opacity="0.53"/>
<circle cx="406.43" cy="557.65" r="0.95" fill="#d0963a" opacity="0.85"/>
<circle cx="407.65" cy="553.80" r="1.0" fill="#d39c42" opacity="0.85"/>
<circle cx="409.90" cy="557.04" r="2.67" fill="#f4f5fa" stroke="#aab0c2" stroke-width="0.45"/>
<ellipse cx="411.01" cy="556.37" rx="1.11" ry="0.51" transform="rotate(66 411.01 556.37)" fill="#2f374a" opacity="0.74"/>
<ellipse cx="408.38" cy="557.05" rx="1.48" ry="0.77" transform="rotate(82 408.38 557.05)" fill="#2f374a" opacity="0.59"/>
<circle cx="409.29" cy="557.26" r="0.8" fill="#ffffff"/>
<circle cx="411.93" cy="559.89" r="0.95" fill="#d0963a" opacity="0.85"/>
<circle cx="413.42" cy="555.74" r="1.0" fill="#d39c42" opacity="0.85"/>
<circle cx="415.47" cy="559.22" r="2.79" fill="#f4f5fa" stroke="#aab0c2" stroke-width="0.45"/>
<ellipse cx="415.35" cy="559.98" rx="0.87" ry="0.48" transform="rotate(142 415.35 559.98)" fill="#2f374a" opacity="0.79"/>
<ellipse cx="414.55" cy="557.54" rx="0.92" ry="0.75" transform="rotate(114 414.55 557.54)" fill="#2f374a" opacity="0.76"/>
<circle cx="415.99" cy="559.71" r="0.8" fill="#ffffff"/>
<circle cx="417.36" cy="562.19" r="0.95" fill="#d0963a" opacity="0.85"/>
<circle cx="419.06" cy="558.02" r="1.0" fill="#d39c42" opacity="0.85"/>
<circle cx="421.22" cy="561.25" r="2.74" fill="#f4f5fa" stroke="#aab0c2" stroke-width="0.45"/>
<ellipse cx="422.05" cy="562.02" rx="0.91" ry="0.65" transform="rotate(60 422.05 562.02)" fill="#2f374a" opacity="0.82"/>
<ellipse cx="421.18" cy="562.37" rx="1.41" ry="0.84" transform="rotate(8 421.18 562.37)" fill="#2f374a" opacity="0.64"/>
<circle cx="420.18" cy="561.08" r="0.8" fill="#ffffff"/>
<circle cx="422.86" cy="564.57" r="0.95" fill="#d0963a" opacity="0.85"/>
<circle cx="427.18" cy="564.00" r="2.22" fill="#f4f5fa" stroke="#aab0c2" stroke-width="0.45"/>
<ellipse cx="428.34" cy="564.04" rx="1.14" ry="0.51" transform="rotate(76 428.34 564.04)" fill="#2f374a" opacity="0.80"/>
<circle cx="428.66" cy="567.40" r="0.95" fill="#d0963a" opacity="0.85"/>
<circle cx="432.05" cy="566.76" r="2.34" fill="#f4f5fa" stroke="#aab0c2" stroke-width="0.45"/>
<ellipse cx="431.48" cy="566.15" rx="1.18" ry="0.74" transform="rotate(159 431.48 566.15)" fill="#2f374a" opacity="0.62"/>
<ellipse cx="433.04" cy="568.01" rx="1.40" ry="0.46" transform="rotate(164 433.04 568.01)" fill="#2f374a" opacity="0.69"/>
<circle cx="433.51" cy="570.02" r="0.95" fill="#d0963a" opacity="0.85"/>
<circle cx="436.38" cy="569.18" r="2.45" fill="#f4f5fa" stroke="#aab0c2" stroke-width="0.45"/>
<ellipse cx="436.51" cy="568.76" rx="1.15" ry="0.81" transform="rotate(92 436.51 568.76)" fill="#2f374a" opacity="0.66"/>
<circle cx="437.71" cy="572.50" r="0.95" fill="#d0963a" opacity="0.85"/>
<circle cx="441.52" cy="572.03" r="2.85" fill="#f4f5fa" stroke="#aab0c2" stroke-width="0.45"/>
<ellipse cx="441.89" cy="571.35" rx="1.56" ry="0.71" transform="rotate(72 441.89 571.35)" fill="#2f374a" opacity="0.81"/>
<ellipse cx="442.01" cy="573.60" rx="0.97" ry="0.50" transform="rotate(72 442.01 573.60)" fill="#2f374a" opacity="0.82"/>
<circle cx="442.58" cy="575.62" r="0.95" fill="#d0963a" opacity="0.85"/>
<circle cx="446.66" cy="575.38" r="2.75" fill="#f4f5fa" stroke="#aab0c2" stroke-width="0.45"/>
<ellipse cx="446.03" cy="574.68" rx="1.18" ry="0.60" transform="rotate(2 446.03 574.68)" fill="#2f374a" opacity="0.82"/>
<circle cx="447.51" cy="579.09" r="0.95" fill="#d0963a" opacity="0.85"/>
<circle cx="451.44" cy="579.36" r="2.31" fill="#f4f5fa" stroke="#aab0c2" stroke-width="0.45"/>
<ellipse cx="452.16" cy="580.75" rx="0.90" ry="0.75" transform="rotate(146 452.16 580.75)" fill="#2f374a" opacity="0.75"/>
<circle cx="452.35" cy="582.81" r="0.95" fill="#d0963a" opacity="0.85"/>
<circle cx="455.17" cy="579.31" r="1.0" fill="#d39c42" opacity="0.85"/>
<circle cx="456.36" cy="583.02" r="2.32" fill="#f4f5fa" stroke="#aab0c2" stroke-width="0.45"/>
<ellipse cx="457.76" cy="583.25" rx="0.87" ry="0.56" transform="rotate(148 457.76 583.25)" fill="#2f374a" opacity="0.79"/>
<circle cx="456.25" cy="583.03" r="0.8" fill="#ffffff"/>
<circle cx="456.97" cy="586.69" r="0.95" fill="#d0963a" opacity="0.85"/>
<circle cx="460.31" cy="586.45" r="2.80" fill="#f4f5fa" stroke="#aab0c2" stroke-width="0.45"/>
<ellipse cx="458.69" cy="586.62" rx="1.35" ry="0.76" transform="rotate(35 458.69 586.62)" fill="#2f374a" opacity="0.68"/>
<circle cx="460.14" cy="586.61" r="0.8" fill="#ffffff"/>
<circle cx="460.77" cy="590.15" r="0.95" fill="#d0963a" opacity="0.85"/>
<circle cx="464.44" cy="590.03" r="2.42" fill="#f4f5fa" stroke="#aab0c2" stroke-width="0.45"/>
<ellipse cx="463.05" cy="590.48" rx="1.37" ry="0.59" transform="rotate(84 463.05 590.48)" fill="#2f374a" opacity="0.77"/>
<ellipse cx="463.32" cy="590.65" rx="1.57" ry="0.78" transform="rotate(83 463.32 590.65)" fill="#2f374a" opacity="0.76"/>
<circle cx="464.45" cy="590.77" r="0.8" fill="#ffffff"/>
<circle cx="464.60" cy="593.91" r="0.95" fill="#d0963a" opacity="0.85"/>
<circle cx="467.81" cy="590.75" r="1.0" fill="#d39c42" opacity="0.85"/>
<circle cx="468.58" cy="594.60" r="2.52" fill="#f4f5fa" stroke="#aab0c2" stroke-width="0.45"/>
<ellipse cx="470.00" cy="594.93" rx="1.52" ry="0.51" transform="rotate(129 470.00 594.93)" fill="#2f374a" opacity="0.75"/>
<circle cx="468.76" cy="598.32" r="0.95" fill="#d0963a" opacity="0.85"/>
<circle cx="472.64" cy="598.76" r="2.73" fill="#f4f5fa" stroke="#aab0c2" stroke-width="0.45"/>
<ellipse cx="471.31" cy="598.53" rx="1.06" ry="0.83" transform="rotate(132 471.31 598.53)" fill="#2f374a" opacity="0.73"/>
<circle cx="472.49" cy="602.64" r="0.95" fill="#d0963a" opacity="0.85"/>
<circle cx="475.86" cy="602.74" r="2.26" fill="#f4f5fa" stroke="#aab0c2" stroke-width="0.45"/>
<ellipse cx="475.12" cy="601.68" rx="0.94" ry="0.53" transform="rotate(113 475.12 601.68)" fill="#2f374a" opacity="0.51"/>
<circle cx="475.40" cy="601.83" r="0.8" fill="#ffffff"/>
<circle cx="475.63" cy="606.56" r="0.95" fill="#d0963a" opacity="0.85"/>
<circle cx="479.19" cy="603.81" r="1.0" fill="#d39c42" opacity="0.85"/>
<circle cx="479.11" cy="606.78" r="2.50" fill="#f4f5fa" stroke="#aab0c2" stroke-width="0.45"/>
<ellipse cx="479.25" cy="608.09" rx="0.91" ry="0.53" transform="rotate(167 479.25 608.09)" fill="#2f374a" opacity="0.56"/>
<circle cx="478.67" cy="610.65" r="0.95" fill="#d0963a" opacity="0.85"/>
<circle cx="482.60" cy="611.74" r="2.64" fill="#f4f5fa" stroke="#aab0c2" stroke-width="0.45"/>
<ellipse cx="482.26" cy="611.20" rx="1.00" ry="0.84" transform="rotate(142 482.26 611.20)" fill="#2f374a" opacity="0.71"/>
<ellipse cx="481.31" cy="611.31" rx="1.15" ry="0.67" transform="rotate(55 481.31 611.31)" fill="#2f374a" opacity="0.58"/>
<circle cx="481.49" cy="611.30" r="0.8" fill="#ffffff"/>
<circle cx="482.03" cy="615.56" r="0.95" fill="#d0963a" opacity="0.85"/>
<circle cx="485.80" cy="617.39" r="2.58" fill="#f4f5fa" stroke="#aab0c2" stroke-width="0.45"/>
<ellipse cx="485.75" cy="616.81" rx="0.91" ry="0.74" transform="rotate(90 485.75 616.81)" fill="#2f374a" opacity="0.89"/>
<circle cx="485.39" cy="620.97" r="0.95" fill="#d0963a" opacity="0.85"/>
<circle cx="488.97" cy="622.06" r="2.34" fill="#f4f5fa" stroke="#aab0c2" stroke-width="0.45"/>
<ellipse cx="488.53" cy="621.09" rx="1.00" ry="0.68" transform="rotate(15 488.53 621.09)" fill="#2f374a" opacity="0.78"/>
<circle cx="489.37" cy="621.43" r="0.8" fill="#ffffff"/>
<circle cx="488.11" cy="625.79" r="0.95" fill="#d0963a" opacity="0.85"/>
<circle cx="491.03" cy="626.76" r="2.85" fill="#f4f5fa" stroke="#aab0c2" stroke-width="0.45"/>
<ellipse cx="490.78" cy="627.16" rx="0.85" ry="0.82" transform="rotate(98 490.78 627.16)" fill="#2f374a" opacity="0.57"/>
<circle cx="490.42" cy="630.26" r="0.95" fill="#d0963a" opacity="0.85"/>
<circle cx="493.41" cy="631.27" r="2.30" fill="#f4f5fa" stroke="#aab0c2" stroke-width="0.45"/>
<ellipse cx="493.63" cy="632.70" rx="1.26" ry="0.78" transform="rotate(43 493.63 632.70)" fill="#2f374a" opacity="0.57"/>
<circle cx="492.56" cy="634.80" r="0.95" fill="#d0963a" opacity="0.85"/>
<circle cx="496.67" cy="632.95" r="1.0" fill="#d39c42" opacity="0.85"/>
<circle cx="495.27" cy="635.81" r="2.33" fill="#f4f5fa" stroke="#aab0c2" stroke-width="0.45"/>
<ellipse cx="495.34" cy="636.43" rx="1.11" ry="0.69" transform="rotate(133 495.34 636.43)" fill="#2f374a" opacity="0.82"/>
<circle cx="494.95" cy="635.87" r="0.8" fill="#ffffff"/>
<circle cx="494.47" cy="639.24" r="0.95" fill="#d0963a" opacity="0.85"/>
<circle cx="498.64" cy="637.54" r="1.0" fill="#d39c42" opacity="0.85"/>
<circle cx="497.60" cy="640.92" r="2.60" fill="#f4f5fa" stroke="#aab0c2" stroke-width="0.45"/>
<ellipse cx="496.82" cy="639.83" rx="1.55" ry="0.47" transform="rotate(44 496.82 639.83)" fill="#2f374a" opacity="0.81"/>
<circle cx="496.47" cy="644.39" r="0.95" fill="#d0963a" opacity="0.85"/>
<circle cx="499.57" cy="646.29" r="2.55" fill="#f4f5fa" stroke="#aab0c2" stroke-width="0.45"/>
<ellipse cx="499.45" cy="646.00" rx="1.35" ry="0.75" transform="rotate(112 499.45 646.00)" fill="#2f374a" opacity="0.80"/>
<circle cx="500.83" cy="646.76" r="0.8" fill="#ffffff"/>
<circle cx="498.29" cy="649.72" r="0.95" fill="#d0963a" opacity="0.85"/>
<circle cx="501.26" cy="651.51" r="2.50" fill="#f4f5fa" stroke="#aab0c2" stroke-width="0.45"/>
<ellipse cx="502.27" cy="651.31" rx="1.15" ry="0.81" transform="rotate(95 502.27 651.31)" fill="#2f374a" opacity="0.63"/>
<circle cx="502.03" cy="652.33" r="0.8" fill="#ffffff"/>
<circle cx="499.91" cy="654.87" r="0.95" fill="#d0963a" opacity="0.85"/>
<circle cx="502.94" cy="657.03" r="2.67" fill="#f4f5fa" stroke="#aab0c2" stroke-width="0.45"/>
<ellipse cx="504.10" cy="658.10" rx="1.48" ry="0.55" transform="rotate(44 504.10 658.10)" fill="#2f374a" opacity="0.85"/>
<circle cx="501.46" cy="660.33" r="0.95" fill="#d0963a" opacity="0.85"/>
<circle cx="503.91" cy="662.34" r="2.56" fill="#f4f5fa" stroke="#aab0c2" stroke-width="0.45"/>
<ellipse cx="504.83" cy="663.72" rx="1.60" ry="0.74" transform="rotate(158 504.83 663.72)" fill="#2f374a" opacity="0.85"/>
<circle cx="504.27" cy="662.42" r="0.8" fill="#ffffff"/>
<circle cx="502.70" cy="665.50" r="0.95" fill="#d0963a" opacity="0.85"/>
<circle cx="506.55" cy="664.75" r="1.0" fill="#d39c42" opacity="0.85"/>
<circle cx="505.35" cy="667.84" r="2.45" fill="#f4f5fa" stroke="#aab0c2" stroke-width="0.45"/>
<ellipse cx="505.96" cy="666.29" rx="0.90" ry="0.67" transform="rotate(143 505.96 666.29)" fill="#2f374a" opacity="0.88"/>
<circle cx="504.67" cy="667.45" r="0.8" fill="#ffffff"/>
<circle cx="503.81" cy="670.99" r="0.95" fill="#d0963a" opacity="0.85"/>
<circle cx="505.89" cy="673.44" r="2.35" fill="#f4f5fa" stroke="#aab0c2" stroke-width="0.45"/>
<ellipse cx="505.38" cy="674.18" rx="1.04" ry="0.63" transform="rotate(42 505.38 674.18)" fill="#2f374a" opacity="0.63"/>
<ellipse cx="505.56" cy="672.23" rx="1.42" ry="0.80" transform="rotate(140 505.56 672.23)" fill="#2f374a" opacity="0.58"/>
<circle cx="504.67" cy="676.47" r="0.95" fill="#d0963a" opacity="0.85"/>
<circle cx="506.52" cy="678.93" r="2.35" fill="#f4f5fa" stroke="#aab0c2" stroke-width="0.45"/>
<ellipse cx="507.56" cy="677.11" rx="1.36" ry="0.67" transform="rotate(114 507.56 677.11)" fill="#2f374a" opacity="0.71"/>
<circle cx="507.79" cy="680.01" r="0.8" fill="#ffffff"/>
<circle cx="505.19" cy="681.91" r="0.95" fill="#d0963a" opacity="0.85"/>
<circle cx="507.09" cy="684.41" r="2.35" fill="#f4f5fa" stroke="#aab0c2" stroke-width="0.45"/>
<ellipse cx="508.14" cy="685.10" rx="1.36" ry="0.83" transform="rotate(24 508.14 685.10)" fill="#2f374a" opacity="0.68"/>
<circle cx="506.63" cy="683.95" r="0.8" fill="#ffffff"/>
<circle cx="505.50" cy="687.35" r="0.95" fill="#d0963a" opacity="0.85"/>
<ellipse cx="337.93" cy="551.47" rx="1.76" ry="1.63" fill="#d59a3e" opacity="0.85"/>
<circle cx="338.94" cy="551.40" r="0.9" fill="#f3cf7a" opacity="0.9"/>
<ellipse cx="342.61" cy="549.83" rx="2.01" ry="1.41" fill="#d59a3e" opacity="0.73"/>
<ellipse cx="346.64" cy="550.02" rx="2.05" ry="1.34" fill="#d59a3e" opacity="0.90"/>
<circle cx="347.66" cy="550.13" r="0.9" fill="#f3cf7a" opacity="0.9"/>
<ellipse cx="350.25" cy="549.32" rx="1.63" ry="1.60" fill="#d59a3e" opacity="0.72"/>
<circle cx="351.30" cy="549.76" r="0.9" fill="#f3cf7a" opacity="0.9"/>
<ellipse cx="354.77" cy="549.49" rx="1.80" ry="1.68" fill="#d59a3e" opacity="0.71"/>
<circle cx="355.77" cy="549.44" r="0.9" fill="#f3cf7a" opacity="0.9"/>
<ellipse cx="358.19" cy="549.19" rx="2.23" ry="1.79" fill="#d59a3e" opacity="0.66"/>
<circle cx="359.20" cy="549.28" r="0.9" fill="#f3cf7a" opacity="0.9"/>
<ellipse cx="362.53" cy="548.85" rx="2.25" ry="1.55" fill="#d59a3e" opacity="0.69"/>
<ellipse cx="366.26" cy="548.89" rx="2.06" ry="1.69" fill="#d59a3e" opacity="0.78"/>
<ellipse cx="370.63" cy="548.63" rx="1.96" ry="1.78" fill="#d59a3e" opacity="0.69"/>
<ellipse cx="373.20" cy="548.86" rx="1.76" ry="1.52" fill="#d59a3e" opacity="0.84"/>
<ellipse cx="378.35" cy="549.74" rx="1.94" ry="1.41" fill="#d59a3e" opacity="0.80"/>
<circle cx="379.33" cy="550.02" r="0.9" fill="#f3cf7a" opacity="0.9"/>
<ellipse cx="380.81" cy="549.57" rx="2.10" ry="1.59" fill="#d59a3e" opacity="0.87"/>
<circle cx="381.74" cy="550.30" r="0.9" fill="#f3cf7a" opacity="0.9"/>
<ellipse cx="384.86" cy="550.80" rx="1.95" ry="1.52" fill="#d59a3e" opacity="0.76"/>
<circle cx="385.87" cy="550.88" r="0.9" fill="#f3cf7a" opacity="0.9"/>
<ellipse cx="390.03" cy="551.59" rx="2.24" ry="1.58" fill="#d59a3e" opacity="0.79"/>
</svg>
</body></html>
